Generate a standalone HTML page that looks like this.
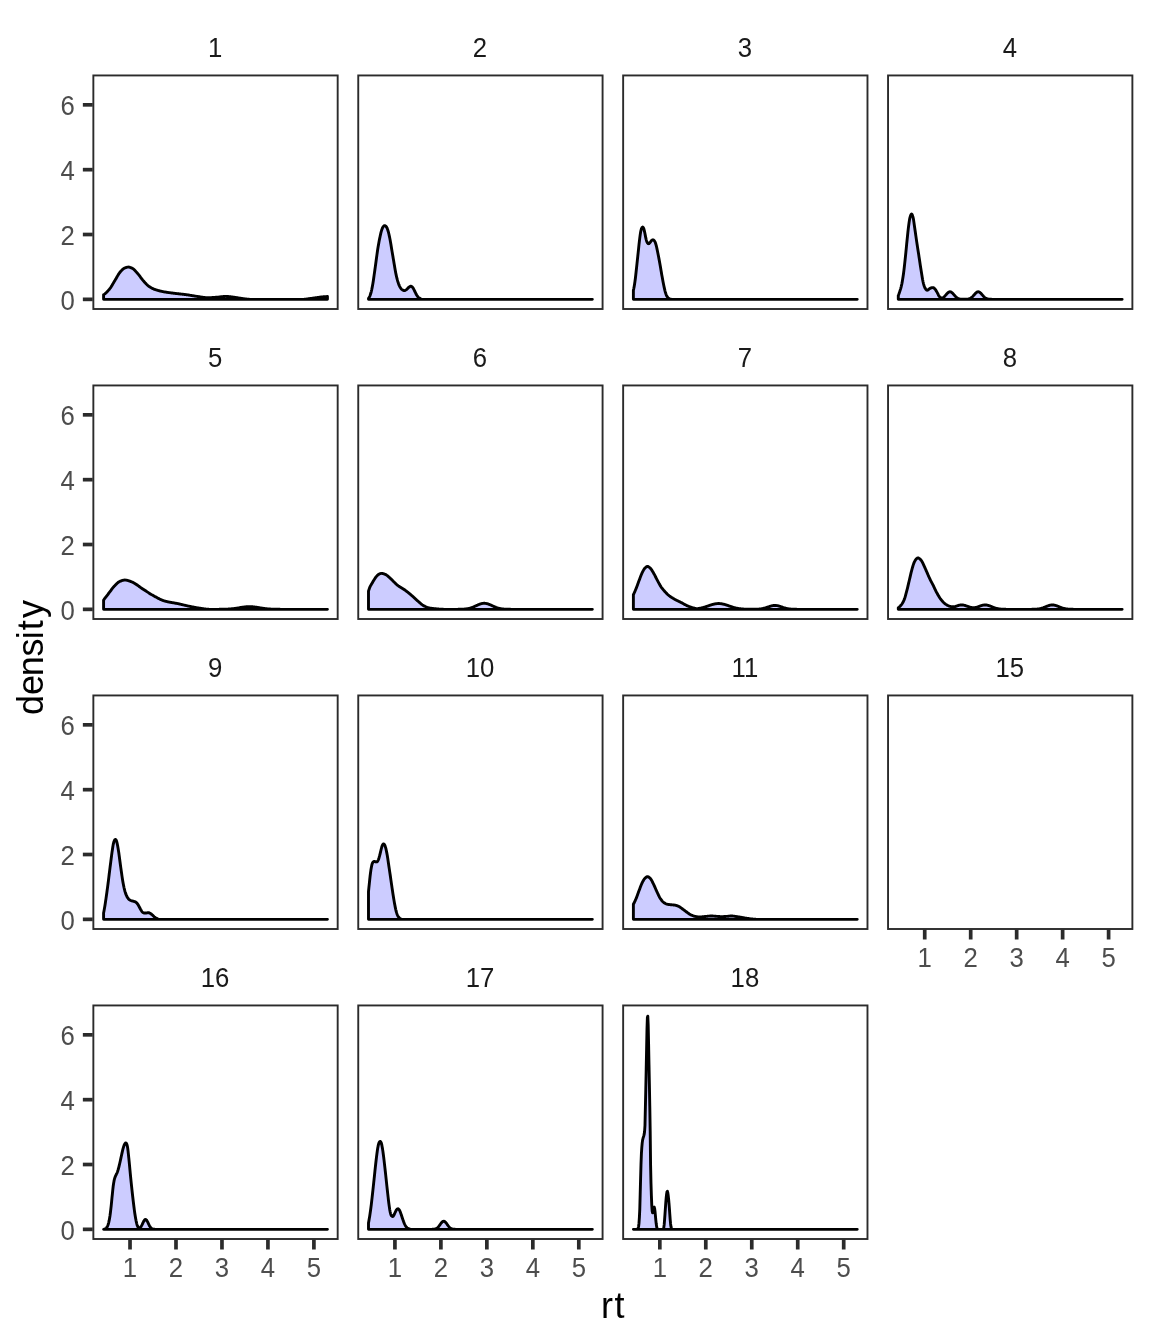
<!DOCTYPE html>
<html><head><meta charset="utf-8"><title>density by subject</title>
<style>
html,body{margin:0;padding:0;background:#fff;}
body{width:1152px;height:1344px;overflow:hidden;font-family:"Liberation Sans",sans-serif;}
svg{display:block;will-change:transform;}
</style></head><body>
<svg width="1152" height="1344" viewBox="0 0 1152 1344">
<rect width="1152" height="1344" fill="#ffffff"/>
<g font-family="'Liberation Sans', sans-serif">
<path d="M103.59 299.35L103.59 294.72L103.99 294.46L104.39 294.18L104.79 293.88L105.19 293.56L105.59 293.22L105.99 292.86L106.39 292.48L106.79 292.09L107.19 291.68L107.59 291.26L107.99 290.83L108.39 290.38L108.79 289.92L109.19 289.45L109.59 288.98L109.99 288.47L110.39 287.92L110.79 287.34L111.19 286.73L111.59 286.08L111.99 285.42L112.39 284.74L112.79 284.06L113.19 283.36L113.59 282.67L113.99 281.99L114.39 281.31L114.79 280.66L115.19 280.01L115.59 279.34L115.99 278.65L116.39 277.96L116.79 277.26L117.19 276.56L117.59 275.87L117.99 275.19L118.39 274.53L118.79 273.90L119.19 273.31L119.59 272.75L119.99 272.24L120.39 271.77L120.79 271.32L121.19 270.87L121.59 270.44L121.99 270.02L122.39 269.63L122.79 269.26L123.19 268.93L123.59 268.63L123.99 268.38L124.39 268.17L124.79 268.00L125.19 267.84L125.59 267.68L125.99 267.54L126.39 267.40L126.79 267.29L127.19 267.19L127.59 267.12L127.99 267.08L128.39 267.07L128.79 267.10L129.19 267.16L129.59 267.25L129.99 267.36L130.39 267.50L130.79 267.65L131.19 267.82L131.59 268.00L131.99 268.18L132.39 268.37L132.79 268.59L133.19 268.86L133.59 269.17L133.99 269.52L134.39 269.90L134.79 270.31L135.19 270.74L135.59 271.18L135.99 271.63L136.39 272.09L136.79 272.54L137.19 272.98L137.59 273.42L137.99 273.89L138.39 274.38L138.79 274.88L139.19 275.40L139.59 275.93L139.99 276.47L140.39 277.01L140.79 277.56L141.19 278.09L141.59 278.63L141.99 279.15L142.39 279.66L142.79 280.16L143.19 280.63L143.59 281.08L143.99 281.52L144.39 281.96L144.79 282.39L145.19 282.83L145.59 283.25L145.99 283.67L146.39 284.09L146.79 284.49L147.19 284.87L147.59 285.24L147.99 285.59L148.39 285.93L148.79 286.24L149.19 286.53L149.59 286.79L149.99 287.04L150.39 287.29L150.79 287.53L151.19 287.76L151.59 287.97L151.99 288.19L152.39 288.39L152.79 288.58L153.19 288.77L153.59 288.95L153.99 289.12L154.39 289.28L154.79 289.43L155.19 289.57L155.59 289.71L155.99 289.84L156.39 289.97L156.79 290.10L157.19 290.22L157.59 290.34L157.99 290.45L158.39 290.56L158.79 290.67L159.19 290.77L159.59 290.88L159.99 290.97L160.39 291.07L160.79 291.16L161.19 291.25L161.59 291.34L161.99 291.42L162.39 291.51L162.79 291.59L163.19 291.66L163.59 291.74L163.99 291.81L164.39 291.89L164.79 291.96L165.19 292.02L165.59 292.09L165.99 292.16L166.39 292.22L166.79 292.28L167.19 292.34L167.59 292.40L167.99 292.46L168.39 292.52L168.79 292.57L169.19 292.63L169.59 292.68L169.99 292.73L170.39 292.79L170.79 292.84L171.19 292.89L171.59 292.94L171.99 293.00L172.39 293.05L172.79 293.10L173.19 293.15L173.59 293.20L173.99 293.25L174.39 293.31L174.79 293.36L175.19 293.40L175.59 293.45L175.99 293.50L176.39 293.55L176.79 293.59L177.19 293.64L177.59 293.68L177.99 293.73L178.39 293.77L178.79 293.81L179.19 293.86L179.59 293.90L179.99 293.95L180.39 293.99L180.79 294.03L181.19 294.08L181.59 294.12L181.99 294.16L182.39 294.21L182.79 294.25L183.19 294.30L183.59 294.35L183.99 294.39L184.39 294.44L184.79 294.49L185.19 294.54L185.59 294.59L185.99 294.64L186.39 294.70L186.79 294.75L187.19 294.81L187.59 294.86L187.99 294.92L188.39 294.99L188.79 295.05L189.19 295.11L189.59 295.18L189.99 295.25L190.39 295.31L190.79 295.38L191.19 295.45L191.59 295.52L191.99 295.59L192.39 295.65L192.79 295.72L193.19 295.79L193.59 295.86L193.99 295.93L194.39 295.99L194.79 296.06L195.19 296.12L195.59 296.18L195.99 296.25L196.39 296.31L196.79 296.36L197.19 296.42L197.59 296.48L197.99 296.53L198.39 296.59L198.79 296.66L199.19 296.72L199.59 296.78L199.99 296.85L200.39 296.91L200.79 296.97L201.19 297.04L201.59 297.10L201.99 297.16L202.39 297.22L202.79 297.28L203.19 297.34L203.59 297.39L203.99 297.44L204.39 297.49L204.79 297.53L205.19 297.57L205.59 297.60L205.99 297.63L206.39 297.66L206.79 297.68L207.19 297.69L207.59 297.70L207.99 297.70L208.39 297.69L208.79 297.69L209.19 297.68L209.59 297.67L209.99 297.66L210.39 297.64L210.79 297.62L211.19 297.60L211.59 297.58L211.99 297.56L212.39 297.54L212.79 297.51L213.19 297.48L213.59 297.46L213.99 297.43L214.39 297.40L214.79 297.38L215.19 297.35L215.59 297.32L215.99 297.30L216.39 297.27L216.79 297.24L217.19 297.21L217.59 297.17L217.99 297.13L218.39 297.09L218.79 297.05L219.19 297.00L219.59 296.96L219.99 296.91L220.39 296.86L220.79 296.81L221.19 296.76L221.59 296.72L221.99 296.67L222.39 296.63L222.79 296.59L223.19 296.55L223.59 296.52L223.99 296.49L224.39 296.47L224.79 296.45L225.19 296.43L225.59 296.42L225.99 296.42L226.39 296.43L226.79 296.44L227.19 296.45L227.59 296.47L227.99 296.50L228.39 296.53L228.79 296.57L229.19 296.61L229.59 296.65L229.99 296.70L230.39 296.74L230.79 296.79L231.19 296.84L231.59 296.90L231.99 296.95L232.39 297.00L232.79 297.06L233.19 297.11L233.59 297.17L233.99 297.22L234.39 297.27L234.79 297.32L235.19 297.37L235.59 297.43L235.99 297.49L236.39 297.56L236.79 297.62L237.19 297.69L237.59 297.76L237.99 297.83L238.39 297.90L238.79 297.97L239.19 298.04L239.59 298.10L239.99 298.17L240.39 298.24L240.79 298.30L241.19 298.37L241.59 298.42L241.99 298.48L242.39 298.53L242.79 298.58L243.19 298.64L243.59 298.69L243.99 298.74L244.39 298.80L244.79 298.85L245.19 298.91L245.59 298.96L245.99 299.01L246.39 299.06L246.79 299.11L247.19 299.16L247.59 299.20L247.99 299.24L248.39 299.27L248.79 299.30L249.19 299.32L249.59 299.34L249.99 299.35L250.39 299.35L250.79 299.35L251.19 299.35L251.59 299.35L251.99 299.35L252.39 299.35L252.79 299.35L253.19 299.35L253.59 299.35L253.99 299.35L254.39 299.35L254.79 299.35L255.19 299.35L255.59 299.35L255.99 299.35L256.39 299.35L256.79 299.35L257.19 299.35L257.59 299.35L257.99 299.35L258.39 299.35L258.79 299.35L259.19 299.35L259.59 299.35L259.99 299.35L260.39 299.35L260.79 299.35L261.19 299.35L261.59 299.35L261.99 299.35L262.39 299.35L262.79 299.35L263.19 299.35L263.59 299.35L263.99 299.35L264.39 299.35L264.79 299.35L265.19 299.35L265.59 299.35L265.99 299.35L266.39 299.35L266.79 299.35L267.19 299.35L267.59 299.35L267.99 299.35L268.39 299.35L268.79 299.35L269.19 299.35L269.59 299.35L269.99 299.35L270.39 299.35L270.79 299.35L271.19 299.35L271.59 299.35L271.99 299.35L272.39 299.35L272.79 299.35L273.19 299.35L273.59 299.35L273.99 299.35L274.39 299.35L274.79 299.35L275.19 299.35L275.59 299.35L275.99 299.35L276.39 299.35L276.79 299.35L277.19 299.35L277.59 299.35L277.99 299.35L278.39 299.35L278.79 299.35L279.19 299.35L279.59 299.35L279.99 299.35L280.39 299.35L280.79 299.35L281.19 299.35L281.59 299.35L281.99 299.35L282.39 299.35L282.79 299.35L283.19 299.35L283.59 299.35L283.99 299.35L284.39 299.35L284.79 299.35L285.19 299.35L285.59 299.35L285.99 299.35L286.39 299.35L286.79 299.35L287.19 299.35L287.59 299.35L287.99 299.35L288.39 299.35L288.79 299.35L289.19 299.35L289.59 299.35L289.99 299.35L290.39 299.35L290.79 299.35L291.19 299.35L291.59 299.35L291.99 299.35L292.39 299.35L292.79 299.35L293.19 299.35L293.59 299.35L293.99 299.35L294.39 299.35L294.79 299.35L295.19 299.35L295.59 299.35L295.99 299.35L296.39 299.35L296.79 299.35L297.19 299.35L297.59 299.35L297.99 299.35L298.39 299.35L298.79 299.35L299.19 299.35L299.59 299.35L299.99 299.35L300.39 299.35L300.79 299.35L301.19 299.35L301.59 299.35L301.99 299.35L302.39 299.35L302.79 299.35L303.19 299.35L303.59 299.35L303.99 299.34L304.39 299.32L304.79 299.30L305.19 299.26L305.59 299.21L305.99 299.16L306.39 299.11L306.79 299.04L307.19 298.98L307.59 298.91L307.99 298.85L308.39 298.78L308.79 298.72L309.19 298.65L309.59 298.59L309.99 298.54L310.39 298.49L310.79 298.44L311.19 298.38L311.59 298.33L311.99 298.28L312.39 298.22L312.79 298.17L313.19 298.12L313.59 298.06L313.99 298.01L314.39 297.96L314.79 297.90L315.19 297.85L315.59 297.79L315.99 297.74L316.39 297.69L316.79 297.63L317.19 297.58L317.59 297.52L317.99 297.46L318.39 297.40L318.79 297.34L319.19 297.28L319.59 297.22L319.99 297.17L320.39 297.11L320.79 297.06L321.19 297.01L321.59 296.96L321.99 296.92L322.39 296.87L322.79 296.84L323.19 296.80L323.59 296.77L323.99 296.74L324.39 296.71L324.79 296.68L325.19 296.65L325.59 296.62L325.99 296.60L326.39 296.58L326.79 296.56L327.44 296.53L327.44 299.35Z" fill="#ccccff" stroke="#000" stroke-width="2.9" stroke-linejoin="round" stroke-linecap="round"/>
<rect x="93.35" y="75.45" width="244.33" height="233.55" fill="none" stroke="#2b2b2b" stroke-width="1.90"/>
<text transform="translate(215.11,56.90) scale(0.920,1)" font-size="28" fill="#1a1a1a" text-anchor="middle">1</text>
<line x1="82.85" y1="299.35" x2="92.70" y2="299.35" stroke="#2b2b2b" stroke-width="3.70"/>
<text transform="translate(74.80,309.75) scale(0.920,1)" font-size="28" fill="#4d4d4d" text-anchor="end">0</text>
<line x1="82.85" y1="234.51" x2="92.70" y2="234.51" stroke="#2b2b2b" stroke-width="3.70"/>
<text transform="translate(74.80,244.91) scale(0.920,1)" font-size="28" fill="#4d4d4d" text-anchor="end">2</text>
<line x1="82.85" y1="169.67" x2="92.70" y2="169.67" stroke="#2b2b2b" stroke-width="3.70"/>
<text transform="translate(74.80,180.07) scale(0.920,1)" font-size="28" fill="#4d4d4d" text-anchor="end">4</text>
<line x1="82.85" y1="104.83" x2="92.70" y2="104.83" stroke="#2b2b2b" stroke-width="3.70"/>
<text transform="translate(74.80,115.23) scale(0.920,1)" font-size="28" fill="#4d4d4d" text-anchor="end">6</text>
<path d="M368.49 299.35L368.49 298.52L368.89 297.95L369.29 297.24L369.69 296.41L370.09 295.45L370.49 294.31L370.89 293.01L371.29 291.53L371.69 289.82L372.09 287.90L372.49 285.82L372.89 283.56L373.29 280.99L373.69 278.23L374.09 275.40L374.49 272.61L374.89 269.75L375.29 266.84L375.69 263.93L376.09 261.03L376.49 258.06L376.89 255.08L377.29 252.20L377.69 249.52L378.09 247.04L378.49 244.68L378.89 242.44L379.29 240.33L379.69 238.35L380.09 236.45L380.49 234.61L380.89 232.88L381.29 231.34L381.69 230.06L382.09 228.91L382.49 227.88L382.89 227.07L383.29 226.57L383.69 226.18L384.09 225.86L384.49 225.66L384.89 225.61L385.29 225.76L385.69 226.08L386.09 226.50L386.49 226.98L386.89 227.67L387.29 228.63L387.69 229.76L388.09 231.01L388.49 232.38L388.89 234.01L389.29 235.83L389.69 237.78L390.09 239.79L390.49 241.99L390.89 244.36L391.29 246.81L391.69 249.25L392.09 251.62L392.49 253.99L392.89 256.36L393.29 258.73L393.69 261.07L394.09 263.40L394.49 265.80L394.89 268.19L395.29 270.52L395.69 272.69L396.09 274.63L396.49 276.44L396.89 278.14L397.29 279.71L397.69 281.14L398.09 282.40L398.49 283.57L398.89 284.65L399.29 285.61L399.69 286.43L400.09 287.13L400.49 287.79L400.89 288.39L401.29 288.90L401.69 289.31L402.09 289.61L402.49 289.87L402.89 290.10L403.29 290.31L403.69 290.47L404.09 290.57L404.49 290.60L404.89 290.52L405.29 290.36L405.69 290.12L406.09 289.84L406.49 289.54L406.89 289.25L407.29 288.89L407.69 288.45L408.09 287.99L408.49 287.55L408.89 287.20L409.29 286.94L409.69 286.68L410.09 286.46L410.49 286.31L410.89 286.26L411.29 286.36L411.69 286.59L412.09 286.90L412.49 287.26L412.89 287.71L413.29 288.36L413.69 289.14L414.09 289.95L414.49 290.72L414.89 291.51L415.29 292.34L415.69 293.19L416.09 294.02L416.49 294.79L416.89 295.46L417.29 296.00L417.69 296.48L418.09 296.92L418.49 297.32L418.89 297.67L419.29 297.96L419.69 298.24L420.09 298.52L420.49 298.79L420.89 299.02L421.29 299.20L421.69 299.32L422.09 299.35L422.49 299.35L422.89 299.35L423.29 299.35L423.69 299.35L424.09 299.35L424.49 299.35L424.89 299.35L425.29 299.35L425.69 299.35L426.09 299.35L426.49 299.35L426.89 299.35L427.29 299.35L427.69 299.35L428.09 299.35L428.49 299.35L428.89 299.35L429.29 299.35L429.69 299.35L430.09 299.35L430.49 299.35L430.89 299.35L431.29 299.35L431.69 299.35L432.09 299.35L432.49 299.35L432.89 299.35L433.29 299.35L433.69 299.35L434.09 299.35L434.49 299.35L434.89 299.35L435.29 299.35L435.69 299.35L436.09 299.35L436.49 299.35L436.89 299.35L437.29 299.35L437.69 299.35L438.09 299.35L438.49 299.35L438.89 299.35L439.29 299.35L439.69 299.35L440.09 299.35L440.49 299.35L440.89 299.35L441.29 299.35L441.69 299.35L442.09 299.35L442.49 299.35L442.89 299.35L443.29 299.35L443.69 299.35L444.09 299.35L444.49 299.35L444.89 299.35L445.29 299.35L445.69 299.35L446.09 299.35L446.49 299.35L446.89 299.35L447.29 299.35L447.69 299.35L448.09 299.35L448.49 299.35L448.89 299.35L449.29 299.35L449.69 299.35L450.09 299.35L450.49 299.35L450.89 299.35L451.29 299.35L451.69 299.35L452.09 299.35L452.49 299.35L452.89 299.35L453.29 299.35L453.69 299.35L454.09 299.35L454.49 299.35L454.89 299.35L455.29 299.35L455.69 299.35L456.09 299.35L456.49 299.35L456.89 299.35L457.29 299.35L457.69 299.35L458.09 299.35L458.49 299.35L458.89 299.35L459.29 299.35L459.69 299.35L460.09 299.35L460.49 299.35L460.89 299.35L461.29 299.35L461.69 299.35L462.09 299.35L462.49 299.35L462.89 299.35L463.29 299.35L463.69 299.35L464.09 299.35L464.49 299.35L464.89 299.35L465.29 299.35L465.69 299.35L466.09 299.35L466.49 299.35L466.89 299.35L467.29 299.35L467.69 299.35L468.09 299.35L468.49 299.35L468.89 299.35L469.29 299.35L469.69 299.35L470.09 299.35L470.49 299.35L470.89 299.35L471.29 299.35L471.69 299.35L472.09 299.35L472.49 299.35L472.89 299.35L473.29 299.35L473.69 299.35L474.09 299.35L474.49 299.35L474.89 299.35L475.29 299.35L475.69 299.35L476.09 299.35L476.49 299.35L476.89 299.35L477.29 299.35L477.69 299.35L478.09 299.35L478.49 299.35L478.89 299.35L479.29 299.35L479.69 299.35L480.09 299.35L480.49 299.35L480.89 299.35L481.29 299.35L481.69 299.35L482.09 299.35L482.49 299.35L482.89 299.35L483.29 299.35L483.69 299.35L484.09 299.35L484.49 299.35L484.89 299.35L485.29 299.35L485.69 299.35L486.09 299.35L486.49 299.35L486.89 299.35L487.29 299.35L487.69 299.35L488.09 299.35L488.49 299.35L488.89 299.35L489.29 299.35L489.69 299.35L490.09 299.35L490.49 299.35L490.89 299.35L491.29 299.35L491.69 299.35L492.09 299.35L492.49 299.35L492.89 299.35L493.29 299.35L493.69 299.35L494.09 299.35L494.49 299.35L494.89 299.35L495.29 299.35L495.69 299.35L496.09 299.35L496.49 299.35L496.89 299.35L497.29 299.35L497.69 299.35L498.09 299.35L498.49 299.35L498.89 299.35L499.29 299.35L499.69 299.35L500.09 299.35L500.49 299.35L500.89 299.35L501.29 299.35L501.69 299.35L502.09 299.35L502.49 299.35L502.89 299.35L503.29 299.35L503.69 299.35L504.09 299.35L504.49 299.35L504.89 299.35L505.29 299.35L505.69 299.35L506.09 299.35L506.49 299.35L506.89 299.35L507.29 299.35L507.69 299.35L508.09 299.35L508.49 299.35L508.89 299.35L509.29 299.35L509.69 299.35L510.09 299.35L510.49 299.35L510.89 299.35L511.29 299.35L511.69 299.35L512.09 299.35L512.49 299.35L512.89 299.35L513.29 299.35L513.69 299.35L514.09 299.35L514.49 299.35L514.89 299.35L515.29 299.35L515.69 299.35L516.09 299.35L516.49 299.35L516.89 299.35L517.29 299.35L517.69 299.35L518.09 299.35L518.49 299.35L518.89 299.35L519.29 299.35L519.69 299.35L520.09 299.35L520.49 299.35L520.89 299.35L521.29 299.35L521.69 299.35L522.09 299.35L522.49 299.35L522.89 299.35L523.29 299.35L523.69 299.35L524.09 299.35L524.49 299.35L524.89 299.35L525.29 299.35L525.69 299.35L526.09 299.35L526.49 299.35L526.89 299.35L527.29 299.35L527.69 299.35L528.09 299.35L528.49 299.35L528.89 299.35L529.29 299.35L529.69 299.35L530.09 299.35L530.49 299.35L530.89 299.35L531.29 299.35L531.69 299.35L532.09 299.35L532.49 299.35L532.89 299.35L533.29 299.35L533.69 299.35L534.09 299.35L534.49 299.35L534.89 299.35L535.29 299.35L535.69 299.35L536.09 299.35L536.49 299.35L536.89 299.35L537.29 299.35L537.69 299.35L538.09 299.35L538.49 299.35L538.89 299.35L539.29 299.35L539.69 299.35L540.09 299.35L540.49 299.35L540.89 299.35L541.29 299.35L541.69 299.35L542.09 299.35L542.49 299.35L542.89 299.35L543.29 299.35L543.69 299.35L544.09 299.35L544.49 299.35L544.89 299.35L545.29 299.35L545.69 299.35L546.09 299.35L546.49 299.35L546.89 299.35L547.29 299.35L547.69 299.35L548.09 299.35L548.49 299.35L548.89 299.35L549.29 299.35L549.69 299.35L550.09 299.35L550.49 299.35L550.89 299.35L551.29 299.35L551.69 299.35L552.09 299.35L552.49 299.35L552.89 299.35L553.29 299.35L553.69 299.35L554.09 299.35L554.49 299.35L554.89 299.35L555.29 299.35L555.69 299.35L556.09 299.35L556.49 299.35L556.89 299.35L557.29 299.35L557.69 299.35L558.09 299.35L558.49 299.35L558.89 299.35L559.29 299.35L559.69 299.35L560.09 299.35L560.49 299.35L560.89 299.35L561.29 299.35L561.69 299.35L562.09 299.35L562.49 299.35L562.89 299.35L563.29 299.35L563.69 299.35L564.09 299.35L564.49 299.35L564.89 299.35L565.29 299.35L565.69 299.35L566.09 299.35L566.49 299.35L566.89 299.35L567.29 299.35L567.69 299.35L568.09 299.35L568.49 299.35L568.89 299.35L569.29 299.35L569.69 299.35L570.09 299.35L570.49 299.35L570.89 299.35L571.29 299.35L571.69 299.35L572.09 299.35L572.49 299.35L572.89 299.35L573.29 299.35L573.69 299.35L574.09 299.35L574.49 299.35L574.89 299.35L575.29 299.35L575.69 299.35L576.09 299.35L576.49 299.35L576.89 299.35L577.29 299.35L577.69 299.35L578.09 299.35L578.49 299.35L578.89 299.35L579.29 299.35L579.69 299.35L580.09 299.35L580.49 299.35L580.89 299.35L581.29 299.35L581.69 299.35L582.09 299.35L582.49 299.35L582.89 299.35L583.29 299.35L583.69 299.35L584.09 299.35L584.49 299.35L584.89 299.35L585.29 299.35L585.69 299.35L586.09 299.35L586.49 299.35L586.89 299.35L587.29 299.35L587.69 299.35L588.09 299.35L588.49 299.35L588.89 299.35L589.29 299.35L589.69 299.35L590.09 299.35L590.49 299.35L590.89 299.35L591.29 299.35L591.69 299.35L592.34 299.35L592.34 299.35Z" fill="#ccccff" stroke="#000" stroke-width="2.9" stroke-linejoin="round" stroke-linecap="round"/>
<rect x="358.25" y="75.45" width="244.33" height="233.55" fill="none" stroke="#2b2b2b" stroke-width="1.90"/>
<text transform="translate(480.02,56.90) scale(0.920,1)" font-size="28" fill="#1a1a1a" text-anchor="middle">2</text>
<path d="M633.39 299.35L633.39 290.38L633.79 288.55L634.19 286.40L634.59 283.98L634.99 281.32L635.39 278.23L635.79 274.72L636.19 271.02L636.59 267.35L636.99 263.69L637.39 259.94L637.79 256.16L638.19 252.41L638.59 248.59L638.99 244.72L639.39 241.10L639.79 237.92L640.19 234.91L640.59 232.28L640.99 230.35L641.39 228.91L641.79 227.96L642.19 227.34L642.59 227.02L642.99 227.24L643.39 227.88L643.79 228.73L644.19 230.14L644.59 231.85L644.99 233.70L645.39 235.88L645.79 237.95L646.19 239.53L646.59 240.92L646.99 242.05L647.39 242.75L647.79 243.22L648.19 243.58L648.59 243.72L648.99 243.59L649.39 243.24L649.79 242.79L650.19 242.35L650.59 241.82L650.99 241.22L651.39 240.70L651.79 240.37L652.19 240.11L652.59 239.91L652.99 239.82L653.39 239.90L653.79 240.18L654.19 240.58L654.59 241.06L654.99 241.81L655.39 242.83L655.79 244.00L656.19 245.33L656.59 246.98L656.99 248.84L657.39 250.79L657.79 252.73L658.19 254.70L658.59 256.75L658.99 258.87L659.39 261.03L659.79 263.23L660.19 265.48L660.59 267.82L660.99 270.21L661.39 272.58L661.79 274.88L662.19 277.10L662.59 279.29L662.99 281.44L663.39 283.49L663.79 285.43L664.19 287.33L664.59 289.16L664.99 290.83L665.39 292.25L665.79 293.53L666.19 294.71L666.59 295.70L666.99 296.41L667.39 296.97L667.79 297.45L668.19 297.86L668.59 298.20L668.99 298.45L669.39 298.65L669.79 298.83L670.19 298.99L670.59 299.14L670.99 299.25L671.39 299.32L671.79 299.35L672.19 299.35L672.59 299.35L672.99 299.35L673.39 299.35L673.79 299.35L674.19 299.35L674.59 299.35L674.99 299.35L675.39 299.35L675.79 299.35L676.19 299.35L676.59 299.35L676.99 299.35L677.39 299.35L677.79 299.35L678.19 299.35L678.59 299.35L678.99 299.35L679.39 299.35L679.79 299.35L680.19 299.35L680.59 299.35L680.99 299.35L681.39 299.35L681.79 299.35L682.19 299.35L682.59 299.35L682.99 299.35L683.39 299.35L683.79 299.35L684.19 299.35L684.59 299.35L684.99 299.35L685.39 299.35L685.79 299.35L686.19 299.35L686.59 299.35L686.99 299.35L687.39 299.35L687.79 299.35L688.19 299.35L688.59 299.35L688.99 299.35L689.39 299.35L689.79 299.35L690.19 299.35L690.59 299.35L690.99 299.35L691.39 299.35L691.79 299.35L692.19 299.35L692.59 299.35L692.99 299.35L693.39 299.35L693.79 299.35L694.19 299.35L694.59 299.35L694.99 299.35L695.39 299.35L695.79 299.35L696.19 299.35L696.59 299.35L696.99 299.35L697.39 299.35L697.79 299.35L698.19 299.35L698.59 299.35L698.99 299.35L699.39 299.35L699.79 299.35L700.19 299.35L700.59 299.35L700.99 299.35L701.39 299.35L701.79 299.35L702.19 299.35L702.59 299.35L702.99 299.35L703.39 299.35L703.79 299.35L704.19 299.35L704.59 299.35L704.99 299.35L705.39 299.35L705.79 299.35L706.19 299.35L706.59 299.35L706.99 299.35L707.39 299.35L707.79 299.35L708.19 299.35L708.59 299.35L708.99 299.35L709.39 299.35L709.79 299.35L710.19 299.35L710.59 299.35L710.99 299.35L711.39 299.35L711.79 299.35L712.19 299.35L712.59 299.35L712.99 299.35L713.39 299.35L713.79 299.35L714.19 299.35L714.59 299.35L714.99 299.35L715.39 299.35L715.79 299.35L716.19 299.35L716.59 299.35L716.99 299.35L717.39 299.35L717.79 299.35L718.19 299.35L718.59 299.35L718.99 299.35L719.39 299.35L719.79 299.35L720.19 299.35L720.59 299.35L720.99 299.35L721.39 299.35L721.79 299.35L722.19 299.35L722.59 299.35L722.99 299.35L723.39 299.35L723.79 299.35L724.19 299.35L724.59 299.35L724.99 299.35L725.39 299.35L725.79 299.35L726.19 299.35L726.59 299.35L726.99 299.35L727.39 299.35L727.79 299.35L728.19 299.35L728.59 299.35L728.99 299.35L729.39 299.35L729.79 299.35L730.19 299.35L730.59 299.35L730.99 299.35L731.39 299.35L731.79 299.35L732.19 299.35L732.59 299.35L732.99 299.35L733.39 299.35L733.79 299.35L734.19 299.35L734.59 299.35L734.99 299.35L735.39 299.35L735.79 299.35L736.19 299.35L736.59 299.35L736.99 299.35L737.39 299.35L737.79 299.35L738.19 299.35L738.59 299.35L738.99 299.35L739.39 299.35L739.79 299.35L740.19 299.35L740.59 299.35L740.99 299.35L741.39 299.35L741.79 299.35L742.19 299.35L742.59 299.35L742.99 299.35L743.39 299.35L743.79 299.35L744.19 299.35L744.59 299.35L744.99 299.35L745.39 299.35L745.79 299.35L746.19 299.35L746.59 299.35L746.99 299.35L747.39 299.35L747.79 299.35L748.19 299.35L748.59 299.35L748.99 299.35L749.39 299.35L749.79 299.35L750.19 299.35L750.59 299.35L750.99 299.35L751.39 299.35L751.79 299.35L752.19 299.35L752.59 299.35L752.99 299.35L753.39 299.35L753.79 299.35L754.19 299.35L754.59 299.35L754.99 299.35L755.39 299.35L755.79 299.35L756.19 299.35L756.59 299.35L756.99 299.35L757.39 299.35L757.79 299.35L758.19 299.35L758.59 299.35L758.99 299.35L759.39 299.35L759.79 299.35L760.19 299.35L760.59 299.35L760.99 299.35L761.39 299.35L761.79 299.35L762.19 299.35L762.59 299.35L762.99 299.35L763.39 299.35L763.79 299.35L764.19 299.35L764.59 299.35L764.99 299.35L765.39 299.35L765.79 299.35L766.19 299.35L766.59 299.35L766.99 299.35L767.39 299.35L767.79 299.35L768.19 299.35L768.59 299.35L768.99 299.35L769.39 299.35L769.79 299.35L770.19 299.35L770.59 299.35L770.99 299.35L771.39 299.35L771.79 299.35L772.19 299.35L772.59 299.35L772.99 299.35L773.39 299.35L773.79 299.35L774.19 299.35L774.59 299.35L774.99 299.35L775.39 299.35L775.79 299.35L776.19 299.35L776.59 299.35L776.99 299.35L777.39 299.35L777.79 299.35L778.19 299.35L778.59 299.35L778.99 299.35L779.39 299.35L779.79 299.35L780.19 299.35L780.59 299.35L780.99 299.35L781.39 299.35L781.79 299.35L782.19 299.35L782.59 299.35L782.99 299.35L783.39 299.35L783.79 299.35L784.19 299.35L784.59 299.35L784.99 299.35L785.39 299.35L785.79 299.35L786.19 299.35L786.59 299.35L786.99 299.35L787.39 299.35L787.79 299.35L788.19 299.35L788.59 299.35L788.99 299.35L789.39 299.35L789.79 299.35L790.19 299.35L790.59 299.35L790.99 299.35L791.39 299.35L791.79 299.35L792.19 299.35L792.59 299.35L792.99 299.35L793.39 299.35L793.79 299.35L794.19 299.35L794.59 299.35L794.99 299.35L795.39 299.35L795.79 299.35L796.19 299.35L796.59 299.35L796.99 299.35L797.39 299.35L797.79 299.35L798.19 299.35L798.59 299.35L798.99 299.35L799.39 299.35L799.79 299.35L800.19 299.35L800.59 299.35L800.99 299.35L801.39 299.35L801.79 299.35L802.19 299.35L802.59 299.35L802.99 299.35L803.39 299.35L803.79 299.35L804.19 299.35L804.59 299.35L804.99 299.35L805.39 299.35L805.79 299.35L806.19 299.35L806.59 299.35L806.99 299.35L807.39 299.35L807.79 299.35L808.19 299.35L808.59 299.35L808.99 299.35L809.39 299.35L809.79 299.35L810.19 299.35L810.59 299.35L810.99 299.35L811.39 299.35L811.79 299.35L812.19 299.35L812.59 299.35L812.99 299.35L813.39 299.35L813.79 299.35L814.19 299.35L814.59 299.35L814.99 299.35L815.39 299.35L815.79 299.35L816.19 299.35L816.59 299.35L816.99 299.35L817.39 299.35L817.79 299.35L818.19 299.35L818.59 299.35L818.99 299.35L819.39 299.35L819.79 299.35L820.19 299.35L820.59 299.35L820.99 299.35L821.39 299.35L821.79 299.35L822.19 299.35L822.59 299.35L822.99 299.35L823.39 299.35L823.79 299.35L824.19 299.35L824.59 299.35L824.99 299.35L825.39 299.35L825.79 299.35L826.19 299.35L826.59 299.35L826.99 299.35L827.39 299.35L827.79 299.35L828.19 299.35L828.59 299.35L828.99 299.35L829.39 299.35L829.79 299.35L830.19 299.35L830.59 299.35L830.99 299.35L831.39 299.35L831.79 299.35L832.19 299.35L832.59 299.35L832.99 299.35L833.39 299.35L833.79 299.35L834.19 299.35L834.59 299.35L834.99 299.35L835.39 299.35L835.79 299.35L836.19 299.35L836.59 299.35L836.99 299.35L837.39 299.35L837.79 299.35L838.19 299.35L838.59 299.35L838.99 299.35L839.39 299.35L839.79 299.35L840.19 299.35L840.59 299.35L840.99 299.35L841.39 299.35L841.79 299.35L842.19 299.35L842.59 299.35L842.99 299.35L843.39 299.35L843.79 299.35L844.19 299.35L844.59 299.35L844.99 299.35L845.39 299.35L845.79 299.35L846.19 299.35L846.59 299.35L846.99 299.35L847.39 299.35L847.79 299.35L848.19 299.35L848.59 299.35L848.99 299.35L849.39 299.35L849.79 299.35L850.19 299.35L850.59 299.35L850.99 299.35L851.39 299.35L851.79 299.35L852.19 299.35L852.59 299.35L852.99 299.35L853.39 299.35L853.79 299.35L854.19 299.35L854.59 299.35L854.99 299.35L855.39 299.35L855.79 299.35L856.19 299.35L856.59 299.35L857.24 299.35L857.24 299.35Z" fill="#ccccff" stroke="#000" stroke-width="2.9" stroke-linejoin="round" stroke-linecap="round"/>
<rect x="623.15" y="75.45" width="244.33" height="233.55" fill="none" stroke="#2b2b2b" stroke-width="1.90"/>
<text transform="translate(744.92,56.90) scale(0.920,1)" font-size="28" fill="#1a1a1a" text-anchor="middle">3</text>
<path d="M898.29 299.35L898.29 295.57L898.69 294.59L899.09 293.53L899.49 292.39L899.89 291.17L900.29 289.90L900.69 288.55L901.09 287.08L901.49 285.45L901.89 283.61L902.29 281.48L902.69 279.09L903.09 276.48L903.49 273.71L903.89 270.63L904.29 267.23L904.69 263.61L905.09 259.89L905.49 256.12L905.89 252.13L906.29 248.03L906.69 243.95L907.09 240.02L907.49 236.10L907.89 232.22L908.29 228.62L908.69 225.48L909.09 222.53L909.49 219.87L909.89 217.84L910.29 216.48L910.69 215.29L911.09 214.40L911.49 213.99L911.89 214.22L912.29 214.99L912.69 216.12L913.09 217.42L913.49 219.36L913.89 222.09L914.29 225.00L914.69 227.70L915.09 230.47L915.49 233.30L915.89 236.12L916.29 238.91L916.69 241.62L917.09 244.26L917.49 246.86L917.89 249.44L918.29 252.01L918.69 254.59L919.09 257.19L919.49 259.84L919.89 262.51L920.29 265.16L920.69 267.76L921.09 270.28L921.49 272.70L921.89 275.19L922.29 277.66L922.69 279.97L923.09 281.99L923.49 283.62L923.89 284.99L924.29 286.23L924.69 287.30L925.09 288.15L925.49 288.75L925.89 289.29L926.29 289.75L926.69 290.08L927.09 290.21L927.49 290.15L927.89 289.96L928.29 289.69L928.69 289.37L929.09 289.06L929.49 288.80L929.89 288.55L930.29 288.30L930.69 288.07L931.09 287.89L931.49 287.79L931.89 287.72L932.29 287.65L932.69 287.61L933.09 287.60L933.49 287.70L933.89 287.94L934.29 288.30L934.69 288.71L935.09 289.13L935.49 289.62L935.89 290.24L936.29 290.94L936.69 291.68L937.09 292.41L937.49 293.13L937.89 293.92L938.29 294.73L938.69 295.49L939.09 296.16L939.49 296.66L939.89 297.08L940.29 297.43L940.69 297.70L941.09 297.87L941.49 297.95L941.89 297.99L942.29 297.97L942.69 297.86L943.09 297.65L943.49 297.34L943.89 297.00L944.29 296.62L944.69 296.22L945.09 295.80L945.49 295.35L945.89 294.90L946.29 294.44L946.69 293.99L947.09 293.56L947.49 293.15L947.89 292.78L948.29 292.46L948.69 292.19L949.09 291.99L949.49 291.86L949.89 291.80L950.29 291.82L950.69 291.91L951.09 292.08L951.49 292.31L951.89 292.60L952.29 292.94L952.69 293.33L953.09 293.75L953.49 294.19L953.89 294.64L954.29 295.10L954.69 295.55L955.09 295.99L955.49 296.41L955.89 296.80L956.29 297.16L956.69 297.49L957.09 297.78L957.49 298.04L957.89 298.27L958.29 298.47L958.69 298.64L959.09 298.78L959.49 298.90L959.89 298.99L960.29 299.07L960.69 299.14L961.09 299.19L961.49 299.23L961.89 299.26L962.29 299.28L962.69 299.30L963.09 299.31L963.49 299.32L963.89 299.32L964.29 299.32L964.69 299.32L965.09 299.31L965.49 299.30L965.89 299.28L966.29 299.26L966.69 299.23L967.09 299.19L967.49 299.14L967.89 299.08L968.29 299.00L968.69 298.90L969.09 298.79L969.49 298.64L969.89 298.48L970.29 298.28L970.69 298.05L971.09 297.79L971.49 297.50L971.89 297.17L972.29 296.82L972.69 296.43L973.09 296.01L973.49 295.58L973.89 295.12L974.29 294.67L974.69 294.21L975.09 293.77L975.49 293.35L975.89 292.96L976.29 292.61L976.69 292.32L977.09 292.09L977.49 291.92L977.89 291.82L978.29 291.80L978.69 291.86L979.09 291.98L979.49 292.18L979.89 292.44L980.29 292.76L980.69 293.13L981.09 293.53L981.49 293.97L981.89 294.42L982.29 294.87L982.69 295.33L983.09 295.77L983.49 296.20L983.89 296.60L984.29 296.98L984.69 297.33L985.09 297.64L985.49 297.92L985.89 298.16L986.29 298.37L986.69 298.56L987.09 298.71L987.49 298.84L987.89 298.95L988.29 299.04L988.69 299.11L989.09 299.16L989.49 299.21L989.89 299.24L990.29 299.27L990.69 299.29L991.09 299.31L991.49 299.32L991.89 299.33L992.29 299.33L992.69 299.34L993.09 299.34L993.49 299.34L993.89 299.35L994.29 299.35L994.69 299.35L995.09 299.35L995.49 299.35L995.89 299.35L996.29 299.35L996.69 299.35L997.09 299.35L997.49 299.35L997.89 299.35L998.29 299.35L998.69 299.35L999.09 299.35L999.49 299.35L999.89 299.35L1000.29 299.35L1000.69 299.35L1001.09 299.35L1001.49 299.35L1001.89 299.35L1002.29 299.35L1002.69 299.35L1003.09 299.35L1003.49 299.35L1003.89 299.35L1004.29 299.35L1004.69 299.35L1005.09 299.35L1005.49 299.35L1005.89 299.35L1006.29 299.35L1006.69 299.35L1007.09 299.35L1007.49 299.35L1007.89 299.35L1008.29 299.35L1008.69 299.35L1009.09 299.35L1009.49 299.35L1009.89 299.35L1010.29 299.35L1010.69 299.35L1011.09 299.35L1011.49 299.35L1011.89 299.35L1012.29 299.35L1012.69 299.35L1013.09 299.35L1013.49 299.35L1013.89 299.35L1014.29 299.35L1014.69 299.35L1015.09 299.35L1015.49 299.35L1015.89 299.35L1016.29 299.35L1016.69 299.35L1017.09 299.35L1017.49 299.35L1017.89 299.35L1018.29 299.35L1018.69 299.35L1019.09 299.35L1019.49 299.35L1019.89 299.35L1020.29 299.35L1020.69 299.35L1021.09 299.35L1021.49 299.35L1021.89 299.35L1022.29 299.35L1022.69 299.35L1023.09 299.35L1023.49 299.35L1023.89 299.35L1024.29 299.35L1024.69 299.35L1025.09 299.35L1025.49 299.35L1025.89 299.35L1026.29 299.35L1026.69 299.35L1027.09 299.35L1027.49 299.35L1027.89 299.35L1028.29 299.35L1028.69 299.35L1029.09 299.35L1029.49 299.35L1029.89 299.35L1030.29 299.35L1030.69 299.35L1031.09 299.35L1031.49 299.35L1031.89 299.35L1032.29 299.35L1032.69 299.35L1033.09 299.35L1033.49 299.35L1033.89 299.35L1034.29 299.35L1034.69 299.35L1035.09 299.35L1035.49 299.35L1035.89 299.35L1036.29 299.35L1036.69 299.35L1037.09 299.35L1037.49 299.35L1037.89 299.35L1038.29 299.35L1038.69 299.35L1039.09 299.35L1039.49 299.35L1039.89 299.35L1040.29 299.35L1040.69 299.35L1041.09 299.35L1041.49 299.35L1041.89 299.35L1042.29 299.35L1042.69 299.35L1043.09 299.35L1043.49 299.35L1043.89 299.35L1044.29 299.35L1044.69 299.35L1045.09 299.35L1045.49 299.35L1045.89 299.35L1046.29 299.35L1046.69 299.35L1047.09 299.35L1047.49 299.35L1047.89 299.35L1048.29 299.35L1048.69 299.35L1049.09 299.35L1049.49 299.35L1049.89 299.35L1050.29 299.35L1050.69 299.35L1051.09 299.35L1051.49 299.35L1051.89 299.35L1052.29 299.35L1052.69 299.35L1053.09 299.35L1053.49 299.35L1053.89 299.35L1054.29 299.35L1054.69 299.35L1055.09 299.35L1055.49 299.35L1055.89 299.35L1056.29 299.35L1056.69 299.35L1057.09 299.35L1057.49 299.35L1057.89 299.35L1058.29 299.35L1058.69 299.35L1059.09 299.35L1059.49 299.35L1059.89 299.35L1060.29 299.35L1060.69 299.35L1061.09 299.35L1061.49 299.35L1061.89 299.35L1062.29 299.35L1062.69 299.35L1063.09 299.35L1063.49 299.35L1063.89 299.35L1064.29 299.35L1064.69 299.35L1065.09 299.35L1065.49 299.35L1065.89 299.35L1066.29 299.35L1066.69 299.35L1067.09 299.35L1067.49 299.35L1067.89 299.35L1068.29 299.35L1068.69 299.35L1069.09 299.35L1069.49 299.35L1069.89 299.35L1070.29 299.35L1070.69 299.35L1071.09 299.35L1071.49 299.35L1071.89 299.35L1072.29 299.35L1072.69 299.35L1073.09 299.35L1073.49 299.35L1073.89 299.35L1074.29 299.35L1074.69 299.35L1075.09 299.35L1075.49 299.35L1075.89 299.35L1076.29 299.35L1076.69 299.35L1077.09 299.35L1077.49 299.35L1077.89 299.35L1078.29 299.35L1078.69 299.35L1079.09 299.35L1079.49 299.35L1079.89 299.35L1080.29 299.35L1080.69 299.35L1081.09 299.35L1081.49 299.35L1081.89 299.35L1082.29 299.35L1082.69 299.35L1083.09 299.35L1083.49 299.35L1083.89 299.35L1084.29 299.35L1084.69 299.35L1085.09 299.35L1085.49 299.35L1085.89 299.35L1086.29 299.35L1086.69 299.35L1087.09 299.35L1087.49 299.35L1087.89 299.35L1088.29 299.35L1088.69 299.35L1089.09 299.35L1089.49 299.35L1089.89 299.35L1090.29 299.35L1090.69 299.35L1091.09 299.35L1091.49 299.35L1091.89 299.35L1092.29 299.35L1092.69 299.35L1093.09 299.35L1093.49 299.35L1093.89 299.35L1094.29 299.35L1094.69 299.35L1095.09 299.35L1095.49 299.35L1095.89 299.35L1096.29 299.35L1096.69 299.35L1097.09 299.35L1097.49 299.35L1097.89 299.35L1098.29 299.35L1098.69 299.35L1099.09 299.35L1099.49 299.35L1099.89 299.35L1100.29 299.35L1100.69 299.35L1101.09 299.35L1101.49 299.35L1101.89 299.35L1102.29 299.35L1102.69 299.35L1103.09 299.35L1103.49 299.35L1103.89 299.35L1104.29 299.35L1104.69 299.35L1105.09 299.35L1105.49 299.35L1105.89 299.35L1106.29 299.35L1106.69 299.35L1107.09 299.35L1107.49 299.35L1107.89 299.35L1108.29 299.35L1108.69 299.35L1109.09 299.35L1109.49 299.35L1109.89 299.35L1110.29 299.35L1110.69 299.35L1111.09 299.35L1111.49 299.35L1111.89 299.35L1112.29 299.35L1112.69 299.35L1113.09 299.35L1113.49 299.35L1113.89 299.35L1114.29 299.35L1114.69 299.35L1115.09 299.35L1115.49 299.35L1115.89 299.35L1116.29 299.35L1116.69 299.35L1117.09 299.35L1117.49 299.35L1117.89 299.35L1118.29 299.35L1118.69 299.35L1119.09 299.35L1119.49 299.35L1119.89 299.35L1120.29 299.35L1120.69 299.35L1121.09 299.35L1121.49 299.35L1122.14 299.35L1122.14 299.35Z" fill="#ccccff" stroke="#000" stroke-width="2.9" stroke-linejoin="round" stroke-linecap="round"/>
<rect x="888.05" y="75.45" width="244.33" height="233.55" fill="none" stroke="#2b2b2b" stroke-width="1.90"/>
<text transform="translate(1009.82,56.90) scale(0.920,1)" font-size="28" fill="#1a1a1a" text-anchor="middle">4</text>
<path d="M103.59 609.35L103.59 600.04L103.99 599.51L104.39 598.98L104.79 598.46L105.19 597.93L105.59 597.40L105.99 596.88L106.39 596.36L106.79 595.83L107.19 595.31L107.59 594.79L107.99 594.27L108.39 593.75L108.79 593.23L109.19 592.71L109.59 592.18L109.99 591.64L110.39 591.10L110.79 590.56L111.19 590.02L111.59 589.48L111.99 588.95L112.39 588.43L112.79 587.92L113.19 587.43L113.59 586.96L113.99 586.51L114.39 586.09L114.79 585.67L115.19 585.24L115.59 584.82L115.99 584.40L116.39 583.99L116.79 583.60L117.19 583.22L117.59 582.86L117.99 582.53L118.39 582.23L118.79 581.96L119.19 581.73L119.59 581.54L119.99 581.37L120.39 581.20L120.79 581.04L121.19 580.88L121.59 580.73L121.99 580.59L122.39 580.47L122.79 580.35L123.19 580.26L123.59 580.17L123.99 580.11L124.39 580.07L124.79 580.05L125.19 580.06L125.59 580.08L125.99 580.12L126.39 580.18L126.79 580.25L127.19 580.34L127.59 580.44L127.99 580.55L128.39 580.67L128.79 580.80L129.19 580.94L129.59 581.08L129.99 581.23L130.39 581.38L130.79 581.54L131.19 581.69L131.59 581.84L131.99 581.99L132.39 582.15L132.79 582.33L133.19 582.52L133.59 582.72L133.99 582.94L134.39 583.16L134.79 583.40L135.19 583.65L135.59 583.91L135.99 584.17L136.39 584.44L136.79 584.72L137.19 585.01L137.59 585.29L137.99 585.58L138.39 585.88L138.79 586.17L139.19 586.47L139.59 586.76L139.99 587.06L140.39 587.35L140.79 587.64L141.19 587.92L141.59 588.20L141.99 588.47L142.39 588.74L142.79 589.00L143.19 589.25L143.59 589.51L143.99 589.77L144.39 590.03L144.79 590.29L145.19 590.55L145.59 590.82L145.99 591.08L146.39 591.34L146.79 591.60L147.19 591.86L147.59 592.12L147.99 592.38L148.39 592.64L148.79 592.90L149.19 593.15L149.59 593.41L149.99 593.66L150.39 593.91L150.79 594.15L151.19 594.39L151.59 594.63L151.99 594.87L152.39 595.10L152.79 595.33L153.19 595.56L153.59 595.78L153.99 595.99L154.39 596.21L154.79 596.43L155.19 596.66L155.59 596.88L155.99 597.10L156.39 597.32L156.79 597.54L157.19 597.76L157.59 597.97L157.99 598.19L158.39 598.40L158.79 598.60L159.19 598.81L159.59 599.01L159.99 599.20L160.39 599.39L160.79 599.58L161.19 599.76L161.59 599.93L161.99 600.10L162.39 600.26L162.79 600.41L163.19 600.55L163.59 600.69L163.99 600.82L164.39 600.93L164.79 601.05L165.19 601.16L165.59 601.26L165.99 601.36L166.39 601.46L166.79 601.56L167.19 601.65L167.59 601.74L167.99 601.83L168.39 601.91L168.79 601.99L169.19 602.07L169.59 602.15L169.99 602.23L170.39 602.30L170.79 602.38L171.19 602.45L171.59 602.52L171.99 602.59L172.39 602.66L172.79 602.73L173.19 602.80L173.59 602.87L173.99 602.94L174.39 603.01L174.79 603.08L175.19 603.15L175.59 603.22L175.99 603.29L176.39 603.37L176.79 603.44L177.19 603.52L177.59 603.60L177.99 603.68L178.39 603.76L178.79 603.84L179.19 603.93L179.59 604.02L179.99 604.11L180.39 604.20L180.79 604.29L181.19 604.38L181.59 604.47L181.99 604.57L182.39 604.66L182.79 604.76L183.19 604.85L183.59 604.95L183.99 605.04L184.39 605.14L184.79 605.23L185.19 605.33L185.59 605.42L185.99 605.52L186.39 605.61L186.79 605.70L187.19 605.79L187.59 605.88L187.99 605.97L188.39 606.05L188.79 606.14L189.19 606.22L189.59 606.30L189.99 606.39L190.39 606.47L190.79 606.55L191.19 606.64L191.59 606.72L191.99 606.80L192.39 606.88L192.79 606.96L193.19 607.04L193.59 607.12L193.99 607.20L194.39 607.28L194.79 607.35L195.19 607.43L195.59 607.50L195.99 607.58L196.39 607.65L196.79 607.72L197.19 607.79L197.59 607.85L197.99 607.92L198.39 607.98L198.79 608.04L199.19 608.10L199.59 608.16L199.99 608.22L200.39 608.28L200.79 608.34L201.19 608.40L201.59 608.47L201.99 608.53L202.39 608.59L202.79 608.65L203.19 608.71L203.59 608.77L203.99 608.83L204.39 608.89L204.79 608.95L205.19 609.00L205.59 609.05L205.99 609.10L206.39 609.14L206.79 609.18L207.19 609.22L207.59 609.25L207.99 609.28L208.39 609.30L208.79 609.32L209.19 609.34L209.59 609.35L209.99 609.35L210.39 609.35L210.79 609.35L211.19 609.35L211.59 609.35L211.99 609.35L212.39 609.35L212.79 609.35L213.19 609.35L213.59 609.35L213.99 609.34L214.39 609.34L214.79 609.34L215.19 609.34L215.59 609.34L215.99 609.34L216.39 609.34L216.79 609.34L217.19 609.33L217.59 609.33L217.99 609.33L218.39 609.33L218.79 609.33L219.19 609.32L219.59 609.32L219.99 609.31L220.39 609.31L220.79 609.30L221.19 609.30L221.59 609.29L221.99 609.29L222.39 609.28L222.79 609.27L223.19 609.26L223.59 609.25L223.99 609.24L224.39 609.23L224.79 609.22L225.19 609.21L225.59 609.19L225.99 609.18L226.39 609.16L226.79 609.14L227.19 609.12L227.59 609.10L227.99 609.08L228.39 609.05L228.79 609.03L229.19 609.00L229.59 608.97L229.99 608.94L230.39 608.91L230.79 608.87L231.19 608.84L231.59 608.80L231.99 608.76L232.39 608.71L232.79 608.67L233.19 608.62L233.59 608.58L233.99 608.53L234.39 608.47L234.79 608.42L235.19 608.37L235.59 608.31L235.99 608.25L236.39 608.19L236.79 608.13L237.19 608.07L237.59 608.01L237.99 607.94L238.39 607.88L238.79 607.81L239.19 607.75L239.59 607.68L239.99 607.62L240.39 607.55L240.79 607.49L241.19 607.42L241.59 607.36L241.99 607.30L242.39 607.24L242.79 607.18L243.19 607.12L243.59 607.07L243.99 607.02L244.39 606.97L244.79 606.92L245.19 606.88L245.59 606.84L245.99 606.80L246.39 606.77L246.79 606.74L247.19 606.72L247.59 606.69L247.99 606.68L248.39 606.66L248.79 606.66L249.19 606.65L249.59 606.65L249.99 606.65L250.39 606.66L250.79 606.68L251.19 606.69L251.59 606.71L251.99 606.74L252.39 606.77L252.79 606.80L253.19 606.84L253.59 606.88L253.99 606.92L254.39 606.97L254.79 607.02L255.19 607.07L255.59 607.12L255.99 607.18L256.39 607.24L256.79 607.30L257.19 607.36L257.59 607.42L257.99 607.48L258.39 607.55L258.79 607.61L259.19 607.68L259.59 607.74L259.99 607.81L260.39 607.87L260.79 607.94L261.19 608.00L261.59 608.07L261.99 608.13L262.39 608.19L262.79 608.25L263.19 608.31L263.59 608.36L263.99 608.42L264.39 608.47L264.79 608.52L265.19 608.57L265.59 608.62L265.99 608.67L266.39 608.71L266.79 608.75L267.19 608.80L267.59 608.83L267.99 608.87L268.39 608.91L268.79 608.94L269.19 608.97L269.59 609.00L269.99 609.03L270.39 609.05L270.79 609.08L271.19 609.10L271.59 609.12L271.99 609.14L272.39 609.16L272.79 609.17L273.19 609.19L273.59 609.21L273.99 609.22L274.39 609.23L274.79 609.24L275.19 609.25L275.59 609.26L275.99 609.27L276.39 609.28L276.79 609.29L277.19 609.29L277.59 609.30L277.99 609.30L278.39 609.31L278.79 609.31L279.19 609.32L279.59 609.32L279.99 609.32L280.39 609.33L280.79 609.33L281.19 609.33L281.59 609.33L281.99 609.34L282.39 609.34L282.79 609.34L283.19 609.34L283.59 609.34L283.99 609.34L284.39 609.34L284.79 609.34L285.19 609.35L285.59 609.35L285.99 609.35L286.39 609.35L286.79 609.35L287.19 609.35L287.59 609.35L287.99 609.35L288.39 609.35L288.79 609.35L289.19 609.35L289.59 609.35L289.99 609.35L290.39 609.35L290.79 609.35L291.19 609.35L291.59 609.35L291.99 609.35L292.39 609.35L292.79 609.35L293.19 609.35L293.59 609.35L293.99 609.35L294.39 609.35L294.79 609.35L295.19 609.35L295.59 609.35L295.99 609.35L296.39 609.35L296.79 609.35L297.19 609.35L297.59 609.35L297.99 609.35L298.39 609.35L298.79 609.35L299.19 609.35L299.59 609.35L299.99 609.35L300.39 609.35L300.79 609.35L301.19 609.35L301.59 609.35L301.99 609.35L302.39 609.35L302.79 609.35L303.19 609.35L303.59 609.35L303.99 609.35L304.39 609.35L304.79 609.35L305.19 609.35L305.59 609.35L305.99 609.35L306.39 609.35L306.79 609.35L307.19 609.35L307.59 609.35L307.99 609.35L308.39 609.35L308.79 609.35L309.19 609.35L309.59 609.35L309.99 609.35L310.39 609.35L310.79 609.35L311.19 609.35L311.59 609.35L311.99 609.35L312.39 609.35L312.79 609.35L313.19 609.35L313.59 609.35L313.99 609.35L314.39 609.35L314.79 609.35L315.19 609.35L315.59 609.35L315.99 609.35L316.39 609.35L316.79 609.35L317.19 609.35L317.59 609.35L317.99 609.35L318.39 609.35L318.79 609.35L319.19 609.35L319.59 609.35L319.99 609.35L320.39 609.35L320.79 609.35L321.19 609.35L321.59 609.35L321.99 609.35L322.39 609.35L322.79 609.35L323.19 609.35L323.59 609.35L323.99 609.35L324.39 609.35L324.79 609.35L325.19 609.35L325.59 609.35L325.99 609.35L326.39 609.35L326.79 609.35L327.44 609.35L327.44 609.35Z" fill="#ccccff" stroke="#000" stroke-width="2.9" stroke-linejoin="round" stroke-linecap="round"/>
<rect x="93.35" y="385.45" width="244.33" height="233.55" fill="none" stroke="#2b2b2b" stroke-width="1.90"/>
<text transform="translate(215.11,366.90) scale(0.920,1)" font-size="28" fill="#1a1a1a" text-anchor="middle">5</text>
<line x1="82.85" y1="609.35" x2="92.70" y2="609.35" stroke="#2b2b2b" stroke-width="3.70"/>
<text transform="translate(74.80,619.75) scale(0.920,1)" font-size="28" fill="#4d4d4d" text-anchor="end">0</text>
<line x1="82.85" y1="544.51" x2="92.70" y2="544.51" stroke="#2b2b2b" stroke-width="3.70"/>
<text transform="translate(74.80,554.91) scale(0.920,1)" font-size="28" fill="#4d4d4d" text-anchor="end">2</text>
<line x1="82.85" y1="479.67" x2="92.70" y2="479.67" stroke="#2b2b2b" stroke-width="3.70"/>
<text transform="translate(74.80,490.07) scale(0.920,1)" font-size="28" fill="#4d4d4d" text-anchor="end">4</text>
<line x1="82.85" y1="414.83" x2="92.70" y2="414.83" stroke="#2b2b2b" stroke-width="3.70"/>
<text transform="translate(74.80,425.23) scale(0.920,1)" font-size="28" fill="#4d4d4d" text-anchor="end">6</text>
<path d="M368.49 609.35L368.49 591.26L368.89 589.93L369.29 588.69L369.69 587.60L370.09 586.67L370.49 585.87L370.89 585.15L371.29 584.48L371.69 583.82L372.09 583.14L372.49 582.45L372.89 581.77L373.29 581.10L373.69 580.45L374.09 579.81L374.49 579.18L374.89 578.55L375.29 577.94L375.69 577.36L376.09 576.83L376.49 576.35L376.89 575.90L377.29 575.48L377.69 575.09L378.09 574.75L378.49 574.47L378.89 574.20L379.29 573.97L379.69 573.78L380.09 573.65L380.49 573.55L380.89 573.46L381.29 573.40L381.69 573.37L382.09 573.39L382.49 573.45L382.89 573.54L383.29 573.65L383.69 573.76L384.09 573.89L384.49 574.04L384.89 574.21L385.29 574.41L385.69 574.62L386.09 574.84L386.49 575.09L386.89 575.36L387.29 575.66L387.69 575.97L388.09 576.30L388.49 576.65L388.89 577.01L389.29 577.37L389.69 577.74L390.09 578.11L390.49 578.48L390.89 578.84L391.29 579.22L391.69 579.61L392.09 580.02L392.49 580.43L392.89 580.84L393.29 581.26L393.69 581.66L394.09 582.05L394.49 582.44L394.89 582.82L395.29 583.20L395.69 583.58L396.09 583.96L396.49 584.32L396.89 584.68L397.29 585.01L397.69 585.33L398.09 585.64L398.49 585.93L398.89 586.20L399.29 586.47L399.69 586.73L400.09 586.99L400.49 587.23L400.89 587.48L401.29 587.72L401.69 587.96L402.09 588.20L402.49 588.45L402.89 588.69L403.29 588.95L403.69 589.20L404.09 589.47L404.49 589.75L404.89 590.03L405.29 590.32L405.69 590.62L406.09 590.92L406.49 591.23L406.89 591.54L407.29 591.85L407.69 592.17L408.09 592.49L408.49 592.82L408.89 593.14L409.29 593.47L409.69 593.81L410.09 594.14L410.49 594.47L410.89 594.81L411.29 595.15L411.69 595.49L412.09 595.83L412.49 596.18L412.89 596.54L413.29 596.90L413.69 597.26L414.09 597.63L414.49 598.00L414.89 598.37L415.29 598.74L415.69 599.11L416.09 599.48L416.49 599.85L416.89 600.21L417.29 600.57L417.69 600.93L418.09 601.27L418.49 601.62L418.89 601.95L419.29 602.30L419.69 602.65L420.09 603.00L420.49 603.34L420.89 603.69L421.29 604.02L421.69 604.34L422.09 604.65L422.49 604.94L422.89 605.20L423.29 605.45L423.69 605.67L424.09 605.89L424.49 606.10L424.89 606.31L425.29 606.52L425.69 606.71L426.09 606.90L426.49 607.07L426.89 607.24L427.29 607.39L427.69 607.53L428.09 607.66L428.49 607.77L428.89 607.87L429.29 607.95L429.69 608.03L430.09 608.10L430.49 608.17L430.89 608.23L431.29 608.29L431.69 608.35L432.09 608.41L432.49 608.46L432.89 608.51L433.29 608.55L433.69 608.60L434.09 608.64L434.49 608.68L434.89 608.71L435.29 608.75L435.69 608.79L436.09 608.82L436.49 608.85L436.89 608.89L437.29 608.92L437.69 608.96L438.09 608.99L438.49 609.02L438.89 609.06L439.29 609.09L439.69 609.12L440.09 609.15L440.49 609.18L440.89 609.20L441.29 609.23L441.69 609.25L442.09 609.27L442.49 609.29L442.89 609.31L443.29 609.32L443.69 609.33L444.09 609.34L444.49 609.35L444.89 609.35L445.29 609.35L445.69 609.35L446.09 609.35L446.49 609.35L446.89 609.35L447.29 609.35L447.69 609.35L448.09 609.35L448.49 609.35L448.89 609.35L449.29 609.35L449.69 609.35L450.09 609.35L450.49 609.35L450.89 609.35L451.29 609.35L451.69 609.35L452.09 609.35L452.49 609.35L452.89 609.35L453.29 609.35L453.69 609.35L454.09 609.35L454.49 609.34L454.89 609.34L455.29 609.34L455.69 609.34L456.09 609.34L456.49 609.34L456.89 609.33L457.29 609.33L457.69 609.33L458.09 609.32L458.49 609.32L458.89 609.31L459.29 609.30L459.69 609.30L460.09 609.29L460.49 609.28L460.89 609.27L461.29 609.25L461.69 609.24L462.09 609.22L462.49 609.20L462.89 609.18L463.29 609.16L463.69 609.13L464.09 609.10L464.49 609.07L464.89 609.03L465.29 608.99L465.69 608.94L466.09 608.90L466.49 608.84L466.89 608.78L467.29 608.72L467.69 608.65L468.09 608.57L468.49 608.49L468.89 608.40L469.29 608.30L469.69 608.20L470.09 608.09L470.49 607.98L470.89 607.86L471.29 607.73L471.69 607.59L472.09 607.45L472.49 607.30L472.89 607.15L473.29 606.98L473.69 606.82L474.09 606.65L474.49 606.48L474.89 606.30L475.29 606.12L475.69 605.93L476.09 605.75L476.49 605.57L476.89 605.38L477.29 605.20L477.69 605.02L478.09 604.84L478.49 604.67L478.89 604.51L479.29 604.35L479.69 604.20L480.09 604.06L480.49 603.92L480.89 603.80L481.29 603.69L481.69 603.59L482.09 603.51L482.49 603.44L482.89 603.38L483.29 603.34L483.69 603.31L484.09 603.30L484.49 603.30L484.89 603.32L485.29 603.36L485.69 603.41L486.09 603.47L486.49 603.55L486.89 603.64L487.29 603.74L487.69 603.85L488.09 603.98L488.49 604.12L488.89 604.26L489.29 604.42L489.69 604.58L490.09 604.75L490.49 604.92L490.89 605.10L491.29 605.28L491.69 605.46L492.09 605.65L492.49 605.83L492.89 606.02L493.29 606.20L493.69 606.38L494.09 606.55L494.49 606.73L494.89 606.89L495.29 607.06L495.69 607.22L496.09 607.37L496.49 607.51L496.89 607.65L497.29 607.78L497.69 607.91L498.09 608.03L498.49 608.14L498.89 608.25L499.29 608.35L499.69 608.44L500.09 608.53L500.49 608.60L500.89 608.68L501.29 608.75L501.69 608.81L502.09 608.87L502.49 608.92L502.89 608.97L503.29 609.01L503.69 609.05L504.09 609.08L504.49 609.12L504.89 609.14L505.29 609.17L505.69 609.19L506.09 609.21L506.49 609.23L506.89 609.25L507.29 609.26L507.69 609.27L508.09 609.28L508.49 609.29L508.89 609.30L509.29 609.31L509.69 609.31L510.09 609.32L510.49 609.32L510.89 609.33L511.29 609.33L511.69 609.33L512.09 609.34L512.49 609.34L512.89 609.34L513.29 609.34L513.69 609.34L514.09 609.34L514.49 609.35L514.89 609.35L515.29 609.35L515.69 609.35L516.09 609.35L516.49 609.35L516.89 609.35L517.29 609.35L517.69 609.35L518.09 609.35L518.49 609.35L518.89 609.35L519.29 609.35L519.69 609.35L520.09 609.35L520.49 609.35L520.89 609.35L521.29 609.35L521.69 609.35L522.09 609.35L522.49 609.35L522.89 609.35L523.29 609.35L523.69 609.35L524.09 609.35L524.49 609.35L524.89 609.35L525.29 609.35L525.69 609.35L526.09 609.35L526.49 609.35L526.89 609.35L527.29 609.35L527.69 609.35L528.09 609.35L528.49 609.35L528.89 609.35L529.29 609.35L529.69 609.35L530.09 609.35L530.49 609.35L530.89 609.35L531.29 609.35L531.69 609.35L532.09 609.35L532.49 609.35L532.89 609.35L533.29 609.35L533.69 609.35L534.09 609.35L534.49 609.35L534.89 609.35L535.29 609.35L535.69 609.35L536.09 609.35L536.49 609.35L536.89 609.35L537.29 609.35L537.69 609.35L538.09 609.35L538.49 609.35L538.89 609.35L539.29 609.35L539.69 609.35L540.09 609.35L540.49 609.35L540.89 609.35L541.29 609.35L541.69 609.35L542.09 609.35L542.49 609.35L542.89 609.35L543.29 609.35L543.69 609.35L544.09 609.35L544.49 609.35L544.89 609.35L545.29 609.35L545.69 609.35L546.09 609.35L546.49 609.35L546.89 609.35L547.29 609.35L547.69 609.35L548.09 609.35L548.49 609.35L548.89 609.35L549.29 609.35L549.69 609.35L550.09 609.35L550.49 609.35L550.89 609.35L551.29 609.35L551.69 609.35L552.09 609.35L552.49 609.35L552.89 609.35L553.29 609.35L553.69 609.35L554.09 609.35L554.49 609.35L554.89 609.35L555.29 609.35L555.69 609.35L556.09 609.35L556.49 609.35L556.89 609.35L557.29 609.35L557.69 609.35L558.09 609.35L558.49 609.35L558.89 609.35L559.29 609.35L559.69 609.35L560.09 609.35L560.49 609.35L560.89 609.35L561.29 609.35L561.69 609.35L562.09 609.35L562.49 609.35L562.89 609.35L563.29 609.35L563.69 609.35L564.09 609.35L564.49 609.35L564.89 609.35L565.29 609.35L565.69 609.35L566.09 609.35L566.49 609.35L566.89 609.35L567.29 609.35L567.69 609.35L568.09 609.35L568.49 609.35L568.89 609.35L569.29 609.35L569.69 609.35L570.09 609.35L570.49 609.35L570.89 609.35L571.29 609.35L571.69 609.35L572.09 609.35L572.49 609.35L572.89 609.35L573.29 609.35L573.69 609.35L574.09 609.35L574.49 609.35L574.89 609.35L575.29 609.35L575.69 609.35L576.09 609.35L576.49 609.35L576.89 609.35L577.29 609.35L577.69 609.35L578.09 609.35L578.49 609.35L578.89 609.35L579.29 609.35L579.69 609.35L580.09 609.35L580.49 609.35L580.89 609.35L581.29 609.35L581.69 609.35L582.09 609.35L582.49 609.35L582.89 609.35L583.29 609.35L583.69 609.35L584.09 609.35L584.49 609.35L584.89 609.35L585.29 609.35L585.69 609.35L586.09 609.35L586.49 609.35L586.89 609.35L587.29 609.35L587.69 609.35L588.09 609.35L588.49 609.35L588.89 609.35L589.29 609.35L589.69 609.35L590.09 609.35L590.49 609.35L590.89 609.35L591.29 609.35L591.69 609.35L592.34 609.35L592.34 609.35Z" fill="#ccccff" stroke="#000" stroke-width="2.9" stroke-linejoin="round" stroke-linecap="round"/>
<rect x="358.25" y="385.45" width="244.33" height="233.55" fill="none" stroke="#2b2b2b" stroke-width="1.90"/>
<text transform="translate(480.02,366.90) scale(0.920,1)" font-size="28" fill="#1a1a1a" text-anchor="middle">6</text>
<path d="M633.39 609.35L633.39 594.72L633.79 593.88L634.19 593.01L634.59 592.12L634.99 591.21L635.39 590.27L635.79 589.31L636.19 588.33L636.59 587.32L636.99 586.26L637.39 585.16L637.79 584.06L638.19 582.95L638.59 581.86L638.99 580.80L639.39 579.74L639.79 578.65L640.19 577.57L640.59 576.51L640.99 575.47L641.39 574.48L641.79 573.56L642.19 572.72L642.59 571.91L642.99 571.11L643.39 570.35L643.79 569.65L644.19 569.01L644.59 568.48L644.99 568.06L645.39 567.68L645.79 567.31L646.19 566.98L646.59 566.71L646.99 566.52L647.39 566.44L647.79 566.48L648.19 566.61L648.59 566.83L648.99 567.10L649.39 567.42L649.79 567.76L650.19 568.11L650.59 568.50L650.99 568.97L651.39 569.52L651.79 570.12L652.19 570.77L652.59 571.44L652.99 572.11L653.39 572.78L653.79 573.46L654.19 574.17L654.59 574.92L654.99 575.69L655.39 576.47L655.79 577.27L656.19 578.06L656.59 578.85L656.99 579.63L657.39 580.39L657.79 581.13L658.19 581.86L658.59 582.61L658.99 583.34L659.39 584.07L659.79 584.78L660.19 585.47L660.59 586.13L660.99 586.74L661.39 587.32L661.79 587.87L662.19 588.40L662.59 588.91L662.99 589.40L663.39 589.87L663.79 590.34L664.19 590.79L664.59 591.24L664.99 591.68L665.39 592.12L665.79 592.55L666.19 592.97L666.59 593.38L666.99 593.78L667.39 594.17L667.79 594.55L668.19 594.91L668.59 595.25L668.99 595.58L669.39 595.90L669.79 596.20L670.19 596.50L670.59 596.79L670.99 597.06L671.39 597.34L671.79 597.60L672.19 597.85L672.59 598.10L672.99 598.35L673.39 598.58L673.79 598.81L674.19 599.04L674.59 599.26L674.99 599.47L675.39 599.68L675.79 599.88L676.19 600.09L676.59 600.28L676.99 600.48L677.39 600.68L677.79 600.87L678.19 601.06L678.59 601.25L678.99 601.45L679.39 601.64L679.79 601.84L680.19 602.04L680.59 602.24L680.99 602.44L681.39 602.65L681.79 602.86L682.19 603.08L682.59 603.30L682.99 603.52L683.39 603.74L683.79 603.96L684.19 604.19L684.59 604.41L684.99 604.62L685.39 604.84L685.79 605.05L686.19 605.25L686.59 605.45L686.99 605.64L687.39 605.82L687.79 606.00L688.19 606.17L688.59 606.33L688.99 606.49L689.39 606.65L689.79 606.80L690.19 606.94L690.59 607.09L690.99 607.22L691.39 607.35L691.79 607.48L692.19 607.60L692.59 607.71L692.99 607.81L693.39 607.92L693.79 608.02L694.19 608.13L694.59 608.24L694.99 608.34L695.39 608.44L695.79 608.52L696.19 608.59L696.59 608.64L696.99 608.66L697.39 608.66L697.79 608.63L698.19 608.57L698.59 608.50L698.99 608.44L699.39 608.37L699.79 608.29L700.19 608.21L700.59 608.13L700.99 608.04L701.39 607.95L701.79 607.86L702.19 607.76L702.59 607.66L702.99 607.55L703.39 607.44L703.79 607.33L704.19 607.21L704.59 607.09L704.99 606.97L705.39 606.84L705.79 606.71L706.19 606.58L706.59 606.45L706.99 606.32L707.39 606.18L707.79 606.04L708.19 605.90L708.59 605.77L708.99 605.63L709.39 605.49L709.79 605.36L710.19 605.22L710.59 605.09L710.99 604.96L711.39 604.83L711.79 604.71L712.19 604.59L712.59 604.47L712.99 604.36L713.39 604.26L713.79 604.16L714.19 604.07L714.59 603.98L714.99 603.90L715.39 603.83L715.79 603.77L716.19 603.71L716.59 603.66L716.99 603.62L717.39 603.59L717.79 603.57L718.19 603.55L718.59 603.55L718.99 603.55L719.39 603.57L719.79 603.59L720.19 603.62L720.59 603.66L720.99 603.71L721.39 603.76L721.79 603.83L722.19 603.90L722.59 603.98L722.99 604.06L723.39 604.16L723.79 604.25L724.19 604.36L724.59 604.47L724.99 604.58L725.39 604.70L725.79 604.83L726.19 604.95L726.59 605.08L726.99 605.21L727.39 605.35L727.79 605.48L728.19 605.62L728.59 605.76L728.99 605.90L729.39 606.04L729.79 606.17L730.19 606.31L730.59 606.44L730.99 606.58L731.39 606.71L731.79 606.84L732.19 606.96L732.59 607.09L732.99 607.21L733.39 607.32L733.79 607.44L734.19 607.55L734.59 607.65L734.99 607.76L735.39 607.85L735.79 607.95L736.19 608.04L736.59 608.13L736.99 608.21L737.39 608.29L737.79 608.36L738.19 608.43L738.59 608.50L738.99 608.56L739.39 608.62L739.79 608.68L740.19 608.73L740.59 608.78L740.99 608.83L741.39 608.87L741.79 608.91L742.19 608.95L742.59 608.98L742.99 609.02L743.39 609.05L743.79 609.08L744.19 609.10L744.59 609.12L744.99 609.15L745.39 609.17L745.79 609.18L746.19 609.20L746.59 609.21L746.99 609.23L747.39 609.24L747.79 609.25L748.19 609.26L748.59 609.27L748.99 609.28L749.39 609.28L749.79 609.29L750.19 609.30L750.59 609.30L750.99 609.30L751.39 609.31L751.79 609.31L752.19 609.31L752.59 609.31L752.99 609.31L753.39 609.30L753.79 609.30L754.19 609.29L754.59 609.29L754.99 609.28L755.39 609.27L755.79 609.26L756.19 609.24L756.59 609.23L756.99 609.21L757.39 609.19L757.79 609.17L758.19 609.14L758.59 609.11L758.99 609.07L759.39 609.04L759.79 608.99L760.19 608.95L760.59 608.89L760.99 608.84L761.39 608.78L761.79 608.71L762.19 608.63L762.59 608.56L762.99 608.47L763.39 608.38L763.79 608.28L764.19 608.18L764.59 608.07L764.99 607.96L765.39 607.84L765.79 607.72L766.19 607.59L766.59 607.46L766.99 607.33L767.39 607.19L767.79 607.06L768.19 606.92L768.59 606.78L768.99 606.65L769.39 606.51L769.79 606.39L770.19 606.26L770.59 606.14L770.99 606.03L771.39 605.92L771.79 605.83L772.19 605.74L772.59 605.66L772.99 605.60L773.39 605.54L773.79 605.50L774.19 605.47L774.59 605.45L774.99 605.45L775.39 605.46L775.79 605.48L776.19 605.52L776.59 605.57L776.99 605.62L777.39 605.70L777.79 605.78L778.19 605.87L778.59 605.97L778.99 606.08L779.39 606.19L779.79 606.32L780.19 606.44L780.59 606.57L780.99 606.71L781.39 606.84L781.79 606.98L782.19 607.12L782.59 607.25L782.99 607.39L783.39 607.52L783.79 607.65L784.19 607.77L784.59 607.90L784.99 608.01L785.39 608.12L785.79 608.23L786.19 608.33L786.59 608.42L786.99 608.51L787.39 608.59L787.79 608.67L788.19 608.74L788.59 608.81L788.99 608.87L789.39 608.92L789.79 608.97L790.19 609.02L790.59 609.06L790.99 609.09L791.39 609.13L791.79 609.16L792.19 609.18L792.59 609.20L792.99 609.22L793.39 609.24L793.79 609.26L794.19 609.27L794.59 609.28L794.99 609.29L795.39 609.30L795.79 609.31L796.19 609.32L796.59 609.32L796.99 609.33L797.39 609.33L797.79 609.33L798.19 609.34L798.59 609.34L798.99 609.34L799.39 609.34L799.79 609.34L800.19 609.35L800.59 609.35L800.99 609.35L801.39 609.35L801.79 609.35L802.19 609.35L802.59 609.35L802.99 609.35L803.39 609.35L803.79 609.35L804.19 609.35L804.59 609.35L804.99 609.35L805.39 609.35L805.79 609.35L806.19 609.35L806.59 609.35L806.99 609.35L807.39 609.35L807.79 609.35L808.19 609.35L808.59 609.35L808.99 609.35L809.39 609.35L809.79 609.35L810.19 609.35L810.59 609.35L810.99 609.35L811.39 609.35L811.79 609.35L812.19 609.35L812.59 609.35L812.99 609.35L813.39 609.35L813.79 609.35L814.19 609.35L814.59 609.35L814.99 609.35L815.39 609.35L815.79 609.35L816.19 609.35L816.59 609.35L816.99 609.35L817.39 609.35L817.79 609.35L818.19 609.35L818.59 609.35L818.99 609.35L819.39 609.35L819.79 609.35L820.19 609.35L820.59 609.35L820.99 609.35L821.39 609.35L821.79 609.35L822.19 609.35L822.59 609.35L822.99 609.35L823.39 609.35L823.79 609.35L824.19 609.35L824.59 609.35L824.99 609.35L825.39 609.35L825.79 609.35L826.19 609.35L826.59 609.35L826.99 609.35L827.39 609.35L827.79 609.35L828.19 609.35L828.59 609.35L828.99 609.35L829.39 609.35L829.79 609.35L830.19 609.35L830.59 609.35L830.99 609.35L831.39 609.35L831.79 609.35L832.19 609.35L832.59 609.35L832.99 609.35L833.39 609.35L833.79 609.35L834.19 609.35L834.59 609.35L834.99 609.35L835.39 609.35L835.79 609.35L836.19 609.35L836.59 609.35L836.99 609.35L837.39 609.35L837.79 609.35L838.19 609.35L838.59 609.35L838.99 609.35L839.39 609.35L839.79 609.35L840.19 609.35L840.59 609.35L840.99 609.35L841.39 609.35L841.79 609.35L842.19 609.35L842.59 609.35L842.99 609.35L843.39 609.35L843.79 609.35L844.19 609.35L844.59 609.35L844.99 609.35L845.39 609.35L845.79 609.35L846.19 609.35L846.59 609.35L846.99 609.35L847.39 609.35L847.79 609.35L848.19 609.35L848.59 609.35L848.99 609.35L849.39 609.35L849.79 609.35L850.19 609.35L850.59 609.35L850.99 609.35L851.39 609.35L851.79 609.35L852.19 609.35L852.59 609.35L852.99 609.35L853.39 609.35L853.79 609.35L854.19 609.35L854.59 609.35L854.99 609.35L855.39 609.35L855.79 609.35L856.19 609.35L856.59 609.35L857.24 609.35L857.24 609.35Z" fill="#ccccff" stroke="#000" stroke-width="2.9" stroke-linejoin="round" stroke-linecap="round"/>
<rect x="623.15" y="385.45" width="244.33" height="233.55" fill="none" stroke="#2b2b2b" stroke-width="1.90"/>
<text transform="translate(744.92,366.90) scale(0.920,1)" font-size="28" fill="#1a1a1a" text-anchor="middle">7</text>
<path d="M898.29 609.35L898.29 607.69L898.69 607.44L899.09 607.13L899.49 606.78L899.89 606.39L900.29 605.97L900.69 605.52L901.09 605.05L901.49 604.54L901.89 603.99L902.29 603.39L902.69 602.73L903.09 602.02L903.49 601.23L903.89 600.38L904.29 599.42L904.69 598.28L905.09 597.01L905.49 595.63L905.89 594.18L906.29 592.69L906.69 591.20L907.09 589.67L907.49 588.05L907.89 586.37L908.29 584.65L908.69 582.92L909.09 581.22L909.49 579.53L909.89 577.81L910.29 576.06L910.69 574.33L911.09 572.65L911.49 571.05L911.89 569.59L912.29 568.17L912.69 566.77L913.09 565.43L913.49 564.18L913.89 563.08L914.29 562.14L914.69 561.35L915.09 560.62L915.49 559.97L915.89 559.41L916.29 558.96L916.69 558.62L917.09 558.31L917.49 558.06L917.89 557.93L918.29 557.97L918.69 558.13L919.09 558.38L919.49 558.68L919.89 558.98L920.29 559.32L920.69 559.74L921.09 560.22L921.49 560.75L921.89 561.34L922.29 562.05L922.69 562.84L923.09 563.68L923.49 564.56L923.89 565.44L924.29 566.30L924.69 567.17L925.09 568.07L925.49 568.99L925.89 569.90L926.29 570.81L926.69 571.73L927.09 572.66L927.49 573.60L927.89 574.53L928.29 575.46L928.69 576.38L929.09 577.28L929.49 578.15L929.89 578.98L930.29 579.79L930.69 580.56L931.09 581.32L931.49 582.08L931.89 582.83L932.29 583.59L932.69 584.36L933.09 585.16L933.49 585.98L933.89 586.82L934.29 587.68L934.69 588.53L935.09 589.38L935.49 590.22L935.89 591.03L936.29 591.82L936.69 592.57L937.09 593.29L937.49 594.01L937.89 594.72L938.29 595.41L938.69 596.08L939.09 596.74L939.49 597.37L939.89 597.97L940.29 598.55L940.69 599.09L941.09 599.61L941.49 600.11L941.89 600.59L942.29 601.06L942.69 601.51L943.09 601.94L943.49 602.35L943.89 602.73L944.29 603.10L944.69 603.45L945.09 603.77L945.49 604.07L945.89 604.36L946.29 604.63L946.69 604.89L947.09 605.12L947.49 605.34L947.89 605.55L948.29 605.74L948.69 605.91L949.09 606.06L949.49 606.20L949.89 606.32L950.29 606.43L950.69 606.52L951.09 606.59L951.49 606.64L951.89 606.67L952.29 606.69L952.69 606.71L953.09 606.72L953.49 606.73L953.89 606.72L954.29 606.69L954.69 606.65L955.09 606.58L955.49 606.48L955.89 606.36L956.29 606.20L956.69 606.04L957.09 605.89L957.49 605.75L957.89 605.61L958.29 605.48L958.69 605.37L959.09 605.26L959.49 605.17L959.89 605.10L960.29 605.04L960.69 604.99L961.09 604.96L961.49 604.94L961.89 604.95L962.29 604.97L962.69 605.00L963.09 605.05L963.49 605.12L963.89 605.19L964.29 605.29L964.69 605.39L965.09 605.50L965.49 605.63L965.89 605.76L966.29 605.89L966.69 606.04L967.09 606.18L967.49 606.32L967.89 606.47L968.29 606.61L968.69 606.75L969.09 606.88L969.49 607.01L969.89 607.12L970.29 607.23L970.69 607.33L971.09 607.42L971.49 607.49L971.89 607.55L972.29 607.60L972.69 607.63L973.09 607.65L973.49 607.66L973.89 607.65L974.29 607.62L974.69 607.58L975.09 607.53L975.49 607.46L975.89 607.38L976.29 607.29L976.69 607.19L977.09 607.07L977.49 606.95L977.89 606.82L978.29 606.69L978.69 606.55L979.09 606.40L979.49 606.26L979.89 606.11L980.29 605.97L980.69 605.83L981.09 605.70L981.49 605.57L981.89 605.45L982.29 605.34L982.69 605.24L983.09 605.16L983.49 605.08L983.89 605.03L984.29 604.98L984.69 604.96L985.09 604.94L985.49 604.95L985.89 604.97L986.29 605.01L986.69 605.06L987.09 605.13L987.49 605.21L987.89 605.31L988.29 605.42L988.69 605.54L989.09 605.67L989.49 605.81L989.89 605.96L990.29 606.11L990.69 606.27L991.09 606.43L991.49 606.59L991.89 606.76L992.29 606.92L992.69 607.08L993.09 607.24L993.49 607.40L993.89 607.55L994.29 607.70L994.69 607.83L995.09 607.97L995.49 608.09L995.89 608.21L996.29 608.32L996.69 608.43L997.09 608.52L997.49 608.61L997.89 608.70L998.29 608.77L998.69 608.84L999.09 608.90L999.49 608.96L999.89 609.01L1000.29 609.05L1000.69 609.09L1001.09 609.13L1001.49 609.16L1001.89 609.19L1002.29 609.21L1002.69 609.23L1003.09 609.25L1003.49 609.27L1003.89 609.28L1004.29 609.29L1004.69 609.30L1005.09 609.31L1005.49 609.32L1005.89 609.32L1006.29 609.33L1006.69 609.33L1007.09 609.33L1007.49 609.34L1007.89 609.34L1008.29 609.34L1008.69 609.34L1009.09 609.34L1009.49 609.35L1009.89 609.35L1010.29 609.35L1010.69 609.35L1011.09 609.35L1011.49 609.35L1011.89 609.35L1012.29 609.35L1012.69 609.35L1013.09 609.35L1013.49 609.35L1013.89 609.35L1014.29 609.35L1014.69 609.35L1015.09 609.35L1015.49 609.35L1015.89 609.35L1016.29 609.35L1016.69 609.35L1017.09 609.35L1017.49 609.35L1017.89 609.35L1018.29 609.35L1018.69 609.35L1019.09 609.35L1019.49 609.35L1019.89 609.35L1020.29 609.35L1020.69 609.35L1021.09 609.35L1021.49 609.35L1021.89 609.35L1022.29 609.35L1022.69 609.35L1023.09 609.35L1023.49 609.35L1023.89 609.35L1024.29 609.35L1024.69 609.35L1025.09 609.35L1025.49 609.35L1025.89 609.35L1026.29 609.35L1026.69 609.35L1027.09 609.35L1027.49 609.35L1027.89 609.35L1028.29 609.35L1028.69 609.34L1029.09 609.34L1029.49 609.34L1029.89 609.34L1030.29 609.34L1030.69 609.33L1031.09 609.33L1031.49 609.33L1031.89 609.32L1032.29 609.31L1032.69 609.31L1033.09 609.30L1033.49 609.29L1033.89 609.27L1034.29 609.26L1034.69 609.24L1035.09 609.22L1035.49 609.20L1035.89 609.18L1036.29 609.15L1036.69 609.11L1037.09 609.08L1037.49 609.03L1037.89 608.99L1038.29 608.93L1038.69 608.87L1039.09 608.81L1039.49 608.74L1039.89 608.66L1040.29 608.57L1040.69 608.48L1041.09 608.38L1041.49 608.27L1041.89 608.16L1042.29 608.04L1042.69 607.91L1043.09 607.77L1043.49 607.63L1043.89 607.48L1044.29 607.33L1044.69 607.17L1045.09 607.01L1045.49 606.85L1045.89 606.69L1046.29 606.52L1046.69 606.36L1047.09 606.20L1047.49 606.04L1047.89 605.89L1048.29 605.75L1048.69 605.61L1049.09 605.49L1049.49 605.37L1049.89 605.27L1050.29 605.18L1050.69 605.10L1051.09 605.04L1051.49 604.99L1051.89 604.96L1052.29 604.95L1052.69 604.95L1053.09 604.97L1053.49 605.01L1053.89 605.06L1054.29 605.13L1054.69 605.21L1055.09 605.31L1055.49 605.42L1055.89 605.54L1056.29 605.67L1056.69 605.81L1057.09 605.96L1057.49 606.11L1057.89 606.27L1058.29 606.43L1058.69 606.60L1059.09 606.76L1059.49 606.92L1059.89 607.08L1060.29 607.24L1060.69 607.40L1061.09 607.55L1061.49 607.70L1061.89 607.83L1062.29 607.97L1062.69 608.09L1063.09 608.21L1063.49 608.32L1063.89 608.43L1064.29 608.52L1064.69 608.61L1065.09 608.70L1065.49 608.77L1065.89 608.84L1066.29 608.90L1066.69 608.96L1067.09 609.01L1067.49 609.05L1067.89 609.09L1068.29 609.13L1068.69 609.16L1069.09 609.19L1069.49 609.21L1069.89 609.23L1070.29 609.25L1070.69 609.27L1071.09 609.28L1071.49 609.29L1071.89 609.30L1072.29 609.31L1072.69 609.32L1073.09 609.32L1073.49 609.33L1073.89 609.33L1074.29 609.33L1074.69 609.34L1075.09 609.34L1075.49 609.34L1075.89 609.34L1076.29 609.34L1076.69 609.35L1077.09 609.35L1077.49 609.35L1077.89 609.35L1078.29 609.35L1078.69 609.35L1079.09 609.35L1079.49 609.35L1079.89 609.35L1080.29 609.35L1080.69 609.35L1081.09 609.35L1081.49 609.35L1081.89 609.35L1082.29 609.35L1082.69 609.35L1083.09 609.35L1083.49 609.35L1083.89 609.35L1084.29 609.35L1084.69 609.35L1085.09 609.35L1085.49 609.35L1085.89 609.35L1086.29 609.35L1086.69 609.35L1087.09 609.35L1087.49 609.35L1087.89 609.35L1088.29 609.35L1088.69 609.35L1089.09 609.35L1089.49 609.35L1089.89 609.35L1090.29 609.35L1090.69 609.35L1091.09 609.35L1091.49 609.35L1091.89 609.35L1092.29 609.35L1092.69 609.35L1093.09 609.35L1093.49 609.35L1093.89 609.35L1094.29 609.35L1094.69 609.35L1095.09 609.35L1095.49 609.35L1095.89 609.35L1096.29 609.35L1096.69 609.35L1097.09 609.35L1097.49 609.35L1097.89 609.35L1098.29 609.35L1098.69 609.35L1099.09 609.35L1099.49 609.35L1099.89 609.35L1100.29 609.35L1100.69 609.35L1101.09 609.35L1101.49 609.35L1101.89 609.35L1102.29 609.35L1102.69 609.35L1103.09 609.35L1103.49 609.35L1103.89 609.35L1104.29 609.35L1104.69 609.35L1105.09 609.35L1105.49 609.35L1105.89 609.35L1106.29 609.35L1106.69 609.35L1107.09 609.35L1107.49 609.35L1107.89 609.35L1108.29 609.35L1108.69 609.35L1109.09 609.35L1109.49 609.35L1109.89 609.35L1110.29 609.35L1110.69 609.35L1111.09 609.35L1111.49 609.35L1111.89 609.35L1112.29 609.35L1112.69 609.35L1113.09 609.35L1113.49 609.35L1113.89 609.35L1114.29 609.35L1114.69 609.35L1115.09 609.35L1115.49 609.35L1115.89 609.35L1116.29 609.35L1116.69 609.35L1117.09 609.35L1117.49 609.35L1117.89 609.35L1118.29 609.35L1118.69 609.35L1119.09 609.35L1119.49 609.35L1119.89 609.35L1120.29 609.35L1120.69 609.35L1121.09 609.35L1121.49 609.35L1122.14 609.35L1122.14 609.35Z" fill="#ccccff" stroke="#000" stroke-width="2.9" stroke-linejoin="round" stroke-linecap="round"/>
<rect x="888.05" y="385.45" width="244.33" height="233.55" fill="none" stroke="#2b2b2b" stroke-width="1.90"/>
<text transform="translate(1009.82,366.90) scale(0.920,1)" font-size="28" fill="#1a1a1a" text-anchor="middle">8</text>
<path d="M103.59 919.35L103.59 912.95L103.99 910.91L104.39 908.73L104.79 906.43L105.19 903.97L105.59 901.34L105.99 898.59L106.39 895.81L106.79 892.98L107.19 890.07L107.59 887.10L107.99 884.04L108.39 880.85L108.79 877.58L109.19 874.30L109.59 871.09L109.99 867.89L110.39 864.72L110.79 861.59L111.19 858.49L111.59 855.39L111.99 852.42L112.39 849.68L112.79 847.01L113.19 844.63L113.59 842.84L113.99 841.42L114.39 840.43L114.79 839.80L115.19 839.38L115.59 839.42L115.99 839.88L116.39 840.57L116.79 841.89L117.19 843.66L117.59 845.55L117.99 847.74L118.39 850.14L118.79 852.80L119.19 855.75L119.59 858.79L119.99 861.73L120.39 864.70L120.79 867.65L121.19 870.53L121.59 873.33L121.99 876.10L122.39 878.75L122.79 881.18L123.19 883.45L123.59 885.56L123.99 887.48L124.39 889.17L124.79 890.73L125.19 892.14L125.59 893.37L125.99 894.43L126.39 895.39L126.79 896.25L127.19 897.00L127.59 897.65L127.99 898.23L128.39 898.75L128.79 899.20L129.19 899.57L129.59 899.85L129.99 900.10L130.39 900.32L130.79 900.51L131.19 900.66L131.59 900.79L131.99 900.90L132.39 900.99L132.79 901.08L133.19 901.17L133.59 901.27L133.99 901.39L134.39 901.52L134.79 901.66L135.19 901.82L135.59 902.02L135.99 902.28L136.39 902.62L136.79 903.02L137.19 903.47L137.59 903.97L137.99 904.59L138.39 905.28L138.79 906.01L139.19 906.73L139.59 907.48L139.99 908.25L140.39 909.01L140.79 909.71L141.19 910.37L141.59 911.03L141.99 911.61L142.39 912.05L142.79 912.35L143.19 912.63L143.59 912.86L143.99 913.01L144.39 913.07L144.79 913.06L145.19 913.04L145.59 913.02L145.99 912.99L146.39 912.96L146.79 912.92L147.19 912.87L147.59 912.80L147.99 912.75L148.39 912.71L148.79 912.73L149.19 912.85L149.59 913.03L149.99 913.25L150.39 913.46L150.79 913.71L151.19 914.00L151.59 914.32L151.99 914.66L152.39 915.00L152.79 915.37L153.19 915.77L153.59 916.17L153.99 916.54L154.39 916.87L154.79 917.16L155.19 917.44L155.59 917.70L155.99 917.95L156.39 918.18L156.79 918.39L157.19 918.62L157.59 918.86L157.99 919.07L158.39 919.24L158.79 919.34L159.19 919.35L159.59 919.35L159.99 919.35L160.39 919.35L160.79 919.35L161.19 919.35L161.59 919.35L161.99 919.35L162.39 919.35L162.79 919.35L163.19 919.35L163.59 919.35L163.99 919.35L164.39 919.35L164.79 919.35L165.19 919.35L165.59 919.35L165.99 919.35L166.39 919.35L166.79 919.35L167.19 919.35L167.59 919.35L167.99 919.35L168.39 919.35L168.79 919.35L169.19 919.35L169.59 919.35L169.99 919.35L170.39 919.35L170.79 919.35L171.19 919.35L171.59 919.35L171.99 919.35L172.39 919.35L172.79 919.35L173.19 919.35L173.59 919.35L173.99 919.35L174.39 919.35L174.79 919.35L175.19 919.35L175.59 919.35L175.99 919.35L176.39 919.35L176.79 919.35L177.19 919.35L177.59 919.35L177.99 919.35L178.39 919.35L178.79 919.35L179.19 919.35L179.59 919.35L179.99 919.35L180.39 919.35L180.79 919.35L181.19 919.35L181.59 919.35L181.99 919.35L182.39 919.35L182.79 919.35L183.19 919.35L183.59 919.35L183.99 919.35L184.39 919.35L184.79 919.35L185.19 919.35L185.59 919.35L185.99 919.35L186.39 919.35L186.79 919.35L187.19 919.35L187.59 919.35L187.99 919.35L188.39 919.35L188.79 919.35L189.19 919.35L189.59 919.35L189.99 919.35L190.39 919.35L190.79 919.35L191.19 919.35L191.59 919.35L191.99 919.35L192.39 919.35L192.79 919.35L193.19 919.35L193.59 919.35L193.99 919.35L194.39 919.35L194.79 919.35L195.19 919.35L195.59 919.35L195.99 919.35L196.39 919.35L196.79 919.35L197.19 919.35L197.59 919.35L197.99 919.35L198.39 919.35L198.79 919.35L199.19 919.35L199.59 919.35L199.99 919.35L200.39 919.35L200.79 919.35L201.19 919.35L201.59 919.35L201.99 919.35L202.39 919.35L202.79 919.35L203.19 919.35L203.59 919.35L203.99 919.35L204.39 919.35L204.79 919.35L205.19 919.35L205.59 919.35L205.99 919.35L206.39 919.35L206.79 919.35L207.19 919.35L207.59 919.35L207.99 919.35L208.39 919.35L208.79 919.35L209.19 919.35L209.59 919.35L209.99 919.35L210.39 919.35L210.79 919.35L211.19 919.35L211.59 919.35L211.99 919.35L212.39 919.35L212.79 919.35L213.19 919.35L213.59 919.35L213.99 919.35L214.39 919.35L214.79 919.35L215.19 919.35L215.59 919.35L215.99 919.35L216.39 919.35L216.79 919.35L217.19 919.35L217.59 919.35L217.99 919.35L218.39 919.35L218.79 919.35L219.19 919.35L219.59 919.35L219.99 919.35L220.39 919.35L220.79 919.35L221.19 919.35L221.59 919.35L221.99 919.35L222.39 919.35L222.79 919.35L223.19 919.35L223.59 919.35L223.99 919.35L224.39 919.35L224.79 919.35L225.19 919.35L225.59 919.35L225.99 919.35L226.39 919.35L226.79 919.35L227.19 919.35L227.59 919.35L227.99 919.35L228.39 919.35L228.79 919.35L229.19 919.35L229.59 919.35L229.99 919.35L230.39 919.35L230.79 919.35L231.19 919.35L231.59 919.35L231.99 919.35L232.39 919.35L232.79 919.35L233.19 919.35L233.59 919.35L233.99 919.35L234.39 919.35L234.79 919.35L235.19 919.35L235.59 919.35L235.99 919.35L236.39 919.35L236.79 919.35L237.19 919.35L237.59 919.35L237.99 919.35L238.39 919.35L238.79 919.35L239.19 919.35L239.59 919.35L239.99 919.35L240.39 919.35L240.79 919.35L241.19 919.35L241.59 919.35L241.99 919.35L242.39 919.35L242.79 919.35L243.19 919.35L243.59 919.35L243.99 919.35L244.39 919.35L244.79 919.35L245.19 919.35L245.59 919.35L245.99 919.35L246.39 919.35L246.79 919.35L247.19 919.35L247.59 919.35L247.99 919.35L248.39 919.35L248.79 919.35L249.19 919.35L249.59 919.35L249.99 919.35L250.39 919.35L250.79 919.35L251.19 919.35L251.59 919.35L251.99 919.35L252.39 919.35L252.79 919.35L253.19 919.35L253.59 919.35L253.99 919.35L254.39 919.35L254.79 919.35L255.19 919.35L255.59 919.35L255.99 919.35L256.39 919.35L256.79 919.35L257.19 919.35L257.59 919.35L257.99 919.35L258.39 919.35L258.79 919.35L259.19 919.35L259.59 919.35L259.99 919.35L260.39 919.35L260.79 919.35L261.19 919.35L261.59 919.35L261.99 919.35L262.39 919.35L262.79 919.35L263.19 919.35L263.59 919.35L263.99 919.35L264.39 919.35L264.79 919.35L265.19 919.35L265.59 919.35L265.99 919.35L266.39 919.35L266.79 919.35L267.19 919.35L267.59 919.35L267.99 919.35L268.39 919.35L268.79 919.35L269.19 919.35L269.59 919.35L269.99 919.35L270.39 919.35L270.79 919.35L271.19 919.35L271.59 919.35L271.99 919.35L272.39 919.35L272.79 919.35L273.19 919.35L273.59 919.35L273.99 919.35L274.39 919.35L274.79 919.35L275.19 919.35L275.59 919.35L275.99 919.35L276.39 919.35L276.79 919.35L277.19 919.35L277.59 919.35L277.99 919.35L278.39 919.35L278.79 919.35L279.19 919.35L279.59 919.35L279.99 919.35L280.39 919.35L280.79 919.35L281.19 919.35L281.59 919.35L281.99 919.35L282.39 919.35L282.79 919.35L283.19 919.35L283.59 919.35L283.99 919.35L284.39 919.35L284.79 919.35L285.19 919.35L285.59 919.35L285.99 919.35L286.39 919.35L286.79 919.35L287.19 919.35L287.59 919.35L287.99 919.35L288.39 919.35L288.79 919.35L289.19 919.35L289.59 919.35L289.99 919.35L290.39 919.35L290.79 919.35L291.19 919.35L291.59 919.35L291.99 919.35L292.39 919.35L292.79 919.35L293.19 919.35L293.59 919.35L293.99 919.35L294.39 919.35L294.79 919.35L295.19 919.35L295.59 919.35L295.99 919.35L296.39 919.35L296.79 919.35L297.19 919.35L297.59 919.35L297.99 919.35L298.39 919.35L298.79 919.35L299.19 919.35L299.59 919.35L299.99 919.35L300.39 919.35L300.79 919.35L301.19 919.35L301.59 919.35L301.99 919.35L302.39 919.35L302.79 919.35L303.19 919.35L303.59 919.35L303.99 919.35L304.39 919.35L304.79 919.35L305.19 919.35L305.59 919.35L305.99 919.35L306.39 919.35L306.79 919.35L307.19 919.35L307.59 919.35L307.99 919.35L308.39 919.35L308.79 919.35L309.19 919.35L309.59 919.35L309.99 919.35L310.39 919.35L310.79 919.35L311.19 919.35L311.59 919.35L311.99 919.35L312.39 919.35L312.79 919.35L313.19 919.35L313.59 919.35L313.99 919.35L314.39 919.35L314.79 919.35L315.19 919.35L315.59 919.35L315.99 919.35L316.39 919.35L316.79 919.35L317.19 919.35L317.59 919.35L317.99 919.35L318.39 919.35L318.79 919.35L319.19 919.35L319.59 919.35L319.99 919.35L320.39 919.35L320.79 919.35L321.19 919.35L321.59 919.35L321.99 919.35L322.39 919.35L322.79 919.35L323.19 919.35L323.59 919.35L323.99 919.35L324.39 919.35L324.79 919.35L325.19 919.35L325.59 919.35L325.99 919.35L326.39 919.35L326.79 919.35L327.44 919.35L327.44 919.35Z" fill="#ccccff" stroke="#000" stroke-width="2.9" stroke-linejoin="round" stroke-linecap="round"/>
<rect x="93.35" y="695.45" width="244.33" height="233.55" fill="none" stroke="#2b2b2b" stroke-width="1.90"/>
<text transform="translate(215.11,676.90) scale(0.920,1)" font-size="28" fill="#1a1a1a" text-anchor="middle">9</text>
<line x1="82.85" y1="919.35" x2="92.70" y2="919.35" stroke="#2b2b2b" stroke-width="3.70"/>
<text transform="translate(74.80,929.75) scale(0.920,1)" font-size="28" fill="#4d4d4d" text-anchor="end">0</text>
<line x1="82.85" y1="854.51" x2="92.70" y2="854.51" stroke="#2b2b2b" stroke-width="3.70"/>
<text transform="translate(74.80,864.91) scale(0.920,1)" font-size="28" fill="#4d4d4d" text-anchor="end">2</text>
<line x1="82.85" y1="789.67" x2="92.70" y2="789.67" stroke="#2b2b2b" stroke-width="3.70"/>
<text transform="translate(74.80,800.07) scale(0.920,1)" font-size="28" fill="#4d4d4d" text-anchor="end">4</text>
<line x1="82.85" y1="724.83" x2="92.70" y2="724.83" stroke="#2b2b2b" stroke-width="3.70"/>
<text transform="translate(74.80,735.23) scale(0.920,1)" font-size="28" fill="#4d4d4d" text-anchor="end">6</text>
<path d="M368.49 919.35L368.49 891.54L368.89 887.70L369.29 883.89L369.69 879.99L370.09 876.23L370.49 873.00L370.89 870.09L371.29 867.67L371.69 865.71L372.09 864.08L372.49 863.03L372.89 862.29L373.29 861.79L373.69 861.62L374.09 861.51L374.49 861.46L374.89 861.51L375.29 861.72L375.69 861.91L376.09 861.93L376.49 861.89L376.89 861.84L377.29 861.66L377.69 861.13L378.09 860.39L378.49 859.51L378.89 858.27L379.29 856.87L379.69 855.41L380.09 853.79L380.49 852.13L380.89 850.47L381.29 848.77L381.69 847.25L382.09 846.02L382.49 844.99L382.89 844.38L383.29 843.96L383.69 843.87L384.09 844.16L384.49 844.65L384.89 845.40L385.29 846.56L385.69 847.88L386.09 849.47L386.49 851.32L386.89 853.36L387.29 855.54L387.69 858.03L388.09 860.73L388.49 863.49L388.89 866.17L389.29 868.87L389.69 871.59L390.09 874.32L390.49 877.07L390.89 879.85L391.29 882.64L391.69 885.41L392.09 888.11L392.49 890.78L392.89 893.41L393.29 895.97L393.69 898.44L394.09 900.87L394.49 903.19L394.89 905.34L395.29 907.38L395.69 909.31L396.09 911.02L396.49 912.42L396.89 913.66L397.29 914.75L397.69 915.65L398.09 916.34L398.49 916.95L398.89 917.48L399.29 917.90L399.69 918.23L400.09 918.52L400.49 918.79L400.89 919.02L401.29 919.21L401.69 919.32L402.09 919.35L402.49 919.35L402.89 919.35L403.29 919.35L403.69 919.35L404.09 919.35L404.49 919.35L404.89 919.35L405.29 919.35L405.69 919.35L406.09 919.35L406.49 919.35L406.89 919.35L407.29 919.35L407.69 919.35L408.09 919.35L408.49 919.35L408.89 919.35L409.29 919.35L409.69 919.35L410.09 919.35L410.49 919.35L410.89 919.35L411.29 919.35L411.69 919.35L412.09 919.35L412.49 919.35L412.89 919.35L413.29 919.35L413.69 919.35L414.09 919.35L414.49 919.35L414.89 919.35L415.29 919.35L415.69 919.35L416.09 919.35L416.49 919.35L416.89 919.35L417.29 919.35L417.69 919.35L418.09 919.35L418.49 919.35L418.89 919.35L419.29 919.35L419.69 919.35L420.09 919.35L420.49 919.35L420.89 919.35L421.29 919.35L421.69 919.35L422.09 919.35L422.49 919.35L422.89 919.35L423.29 919.35L423.69 919.35L424.09 919.35L424.49 919.35L424.89 919.35L425.29 919.35L425.69 919.35L426.09 919.35L426.49 919.35L426.89 919.35L427.29 919.35L427.69 919.35L428.09 919.35L428.49 919.35L428.89 919.35L429.29 919.35L429.69 919.35L430.09 919.35L430.49 919.35L430.89 919.35L431.29 919.35L431.69 919.35L432.09 919.35L432.49 919.35L432.89 919.35L433.29 919.35L433.69 919.35L434.09 919.35L434.49 919.35L434.89 919.35L435.29 919.35L435.69 919.35L436.09 919.35L436.49 919.35L436.89 919.35L437.29 919.35L437.69 919.35L438.09 919.35L438.49 919.35L438.89 919.35L439.29 919.35L439.69 919.35L440.09 919.35L440.49 919.35L440.89 919.35L441.29 919.35L441.69 919.35L442.09 919.35L442.49 919.35L442.89 919.35L443.29 919.35L443.69 919.35L444.09 919.35L444.49 919.35L444.89 919.35L445.29 919.35L445.69 919.35L446.09 919.35L446.49 919.35L446.89 919.35L447.29 919.35L447.69 919.35L448.09 919.35L448.49 919.35L448.89 919.35L449.29 919.35L449.69 919.35L450.09 919.35L450.49 919.35L450.89 919.35L451.29 919.35L451.69 919.35L452.09 919.35L452.49 919.35L452.89 919.35L453.29 919.35L453.69 919.35L454.09 919.35L454.49 919.35L454.89 919.35L455.29 919.35L455.69 919.35L456.09 919.35L456.49 919.35L456.89 919.35L457.29 919.35L457.69 919.35L458.09 919.35L458.49 919.35L458.89 919.35L459.29 919.35L459.69 919.35L460.09 919.35L460.49 919.35L460.89 919.35L461.29 919.35L461.69 919.35L462.09 919.35L462.49 919.35L462.89 919.35L463.29 919.35L463.69 919.35L464.09 919.35L464.49 919.35L464.89 919.35L465.29 919.35L465.69 919.35L466.09 919.35L466.49 919.35L466.89 919.35L467.29 919.35L467.69 919.35L468.09 919.35L468.49 919.35L468.89 919.35L469.29 919.35L469.69 919.35L470.09 919.35L470.49 919.35L470.89 919.35L471.29 919.35L471.69 919.35L472.09 919.35L472.49 919.35L472.89 919.35L473.29 919.35L473.69 919.35L474.09 919.35L474.49 919.35L474.89 919.35L475.29 919.35L475.69 919.35L476.09 919.35L476.49 919.35L476.89 919.35L477.29 919.35L477.69 919.35L478.09 919.35L478.49 919.35L478.89 919.35L479.29 919.35L479.69 919.35L480.09 919.35L480.49 919.35L480.89 919.35L481.29 919.35L481.69 919.35L482.09 919.35L482.49 919.35L482.89 919.35L483.29 919.35L483.69 919.35L484.09 919.35L484.49 919.35L484.89 919.35L485.29 919.35L485.69 919.35L486.09 919.35L486.49 919.35L486.89 919.35L487.29 919.35L487.69 919.35L488.09 919.35L488.49 919.35L488.89 919.35L489.29 919.35L489.69 919.35L490.09 919.35L490.49 919.35L490.89 919.35L491.29 919.35L491.69 919.35L492.09 919.35L492.49 919.35L492.89 919.35L493.29 919.35L493.69 919.35L494.09 919.35L494.49 919.35L494.89 919.35L495.29 919.35L495.69 919.35L496.09 919.35L496.49 919.35L496.89 919.35L497.29 919.35L497.69 919.35L498.09 919.35L498.49 919.35L498.89 919.35L499.29 919.35L499.69 919.35L500.09 919.35L500.49 919.35L500.89 919.35L501.29 919.35L501.69 919.35L502.09 919.35L502.49 919.35L502.89 919.35L503.29 919.35L503.69 919.35L504.09 919.35L504.49 919.35L504.89 919.35L505.29 919.35L505.69 919.35L506.09 919.35L506.49 919.35L506.89 919.35L507.29 919.35L507.69 919.35L508.09 919.35L508.49 919.35L508.89 919.35L509.29 919.35L509.69 919.35L510.09 919.35L510.49 919.35L510.89 919.35L511.29 919.35L511.69 919.35L512.09 919.35L512.49 919.35L512.89 919.35L513.29 919.35L513.69 919.35L514.09 919.35L514.49 919.35L514.89 919.35L515.29 919.35L515.69 919.35L516.09 919.35L516.49 919.35L516.89 919.35L517.29 919.35L517.69 919.35L518.09 919.35L518.49 919.35L518.89 919.35L519.29 919.35L519.69 919.35L520.09 919.35L520.49 919.35L520.89 919.35L521.29 919.35L521.69 919.35L522.09 919.35L522.49 919.35L522.89 919.35L523.29 919.35L523.69 919.35L524.09 919.35L524.49 919.35L524.89 919.35L525.29 919.35L525.69 919.35L526.09 919.35L526.49 919.35L526.89 919.35L527.29 919.35L527.69 919.35L528.09 919.35L528.49 919.35L528.89 919.35L529.29 919.35L529.69 919.35L530.09 919.35L530.49 919.35L530.89 919.35L531.29 919.35L531.69 919.35L532.09 919.35L532.49 919.35L532.89 919.35L533.29 919.35L533.69 919.35L534.09 919.35L534.49 919.35L534.89 919.35L535.29 919.35L535.69 919.35L536.09 919.35L536.49 919.35L536.89 919.35L537.29 919.35L537.69 919.35L538.09 919.35L538.49 919.35L538.89 919.35L539.29 919.35L539.69 919.35L540.09 919.35L540.49 919.35L540.89 919.35L541.29 919.35L541.69 919.35L542.09 919.35L542.49 919.35L542.89 919.35L543.29 919.35L543.69 919.35L544.09 919.35L544.49 919.35L544.89 919.35L545.29 919.35L545.69 919.35L546.09 919.35L546.49 919.35L546.89 919.35L547.29 919.35L547.69 919.35L548.09 919.35L548.49 919.35L548.89 919.35L549.29 919.35L549.69 919.35L550.09 919.35L550.49 919.35L550.89 919.35L551.29 919.35L551.69 919.35L552.09 919.35L552.49 919.35L552.89 919.35L553.29 919.35L553.69 919.35L554.09 919.35L554.49 919.35L554.89 919.35L555.29 919.35L555.69 919.35L556.09 919.35L556.49 919.35L556.89 919.35L557.29 919.35L557.69 919.35L558.09 919.35L558.49 919.35L558.89 919.35L559.29 919.35L559.69 919.35L560.09 919.35L560.49 919.35L560.89 919.35L561.29 919.35L561.69 919.35L562.09 919.35L562.49 919.35L562.89 919.35L563.29 919.35L563.69 919.35L564.09 919.35L564.49 919.35L564.89 919.35L565.29 919.35L565.69 919.35L566.09 919.35L566.49 919.35L566.89 919.35L567.29 919.35L567.69 919.35L568.09 919.35L568.49 919.35L568.89 919.35L569.29 919.35L569.69 919.35L570.09 919.35L570.49 919.35L570.89 919.35L571.29 919.35L571.69 919.35L572.09 919.35L572.49 919.35L572.89 919.35L573.29 919.35L573.69 919.35L574.09 919.35L574.49 919.35L574.89 919.35L575.29 919.35L575.69 919.35L576.09 919.35L576.49 919.35L576.89 919.35L577.29 919.35L577.69 919.35L578.09 919.35L578.49 919.35L578.89 919.35L579.29 919.35L579.69 919.35L580.09 919.35L580.49 919.35L580.89 919.35L581.29 919.35L581.69 919.35L582.09 919.35L582.49 919.35L582.89 919.35L583.29 919.35L583.69 919.35L584.09 919.35L584.49 919.35L584.89 919.35L585.29 919.35L585.69 919.35L586.09 919.35L586.49 919.35L586.89 919.35L587.29 919.35L587.69 919.35L588.09 919.35L588.49 919.35L588.89 919.35L589.29 919.35L589.69 919.35L590.09 919.35L590.49 919.35L590.89 919.35L591.29 919.35L591.69 919.35L592.34 919.35L592.34 919.35Z" fill="#ccccff" stroke="#000" stroke-width="2.9" stroke-linejoin="round" stroke-linecap="round"/>
<rect x="358.25" y="695.45" width="244.33" height="233.55" fill="none" stroke="#2b2b2b" stroke-width="1.90"/>
<text transform="translate(480.02,676.90) scale(0.920,1)" font-size="28" fill="#1a1a1a" text-anchor="middle">10</text>
<path d="M633.39 919.35L633.39 904.30L633.79 903.54L634.19 902.75L634.59 901.93L634.99 901.07L635.39 900.19L635.79 899.27L636.19 898.33L636.59 897.34L636.99 896.29L637.39 895.20L637.79 894.08L638.19 892.96L638.59 891.86L638.99 890.80L639.39 889.73L639.79 888.65L640.19 887.56L640.59 886.48L640.99 885.44L641.39 884.46L641.79 883.55L642.19 882.72L642.59 881.94L642.99 881.18L643.39 880.46L643.79 879.79L644.19 879.20L644.59 878.68L644.99 878.27L645.39 877.89L645.79 877.53L646.19 877.20L646.59 876.93L646.99 876.74L647.39 876.65L647.79 876.69L648.19 876.82L648.59 877.03L648.99 877.30L649.39 877.62L649.79 877.96L650.19 878.32L650.59 878.75L650.99 879.29L651.39 879.95L651.79 880.67L652.19 881.45L652.59 882.25L652.99 883.05L653.39 883.83L653.79 884.65L654.19 885.52L654.59 886.42L654.99 887.34L655.39 888.27L655.79 889.20L656.19 890.12L656.59 891.02L656.99 891.88L657.39 892.74L657.79 893.60L658.19 894.47L658.59 895.33L658.99 896.15L659.39 896.93L659.79 897.65L660.19 898.30L660.59 898.89L660.99 899.46L661.39 900.00L661.79 900.51L662.19 900.98L662.59 901.42L662.99 901.81L663.39 902.16L663.79 902.48L664.19 902.78L664.59 903.07L664.99 903.34L665.39 903.58L665.79 903.79L666.19 903.96L666.59 904.08L666.99 904.18L667.39 904.26L667.79 904.33L668.19 904.40L668.59 904.46L668.99 904.51L669.39 904.56L669.79 904.60L670.19 904.65L670.59 904.69L670.99 904.74L671.39 904.78L671.79 904.82L672.19 904.85L672.59 904.89L672.99 904.92L673.39 904.95L673.79 904.99L674.19 905.03L674.59 905.08L674.99 905.13L675.39 905.20L675.79 905.29L676.19 905.41L676.59 905.54L676.99 905.68L677.39 905.84L677.79 906.01L678.19 906.18L678.59 906.37L678.99 906.56L679.39 906.77L679.79 907.02L680.19 907.28L680.59 907.55L680.99 907.84L681.39 908.13L681.79 908.43L682.19 908.72L682.59 909.01L682.99 909.30L683.39 909.59L683.79 909.90L684.19 910.20L684.59 910.51L684.99 910.82L685.39 911.13L685.79 911.43L686.19 911.73L686.59 912.02L686.99 912.30L687.39 912.58L687.79 912.87L688.19 913.16L688.59 913.44L688.99 913.72L689.39 913.99L689.79 914.24L690.19 914.48L690.59 914.70L690.99 914.90L691.39 915.08L691.79 915.26L692.19 915.43L692.59 915.59L692.99 915.75L693.39 915.90L693.79 916.03L694.19 916.15L694.59 916.26L694.99 916.36L695.39 916.44L695.79 916.51L696.19 916.58L696.59 916.65L696.99 916.72L697.39 916.78L697.79 916.83L698.19 916.88L698.59 916.91L698.99 916.94L699.39 916.95L699.79 916.95L700.19 916.94L700.59 916.93L700.99 916.90L701.39 916.87L701.79 916.84L702.19 916.80L702.59 916.76L702.99 916.72L703.39 916.67L703.79 916.63L704.19 916.59L704.59 916.55L704.99 916.52L705.39 916.48L705.79 916.44L706.19 916.40L706.59 916.36L706.99 916.32L707.39 916.27L707.79 916.23L708.19 916.18L708.59 916.14L708.99 916.11L709.39 916.08L709.79 916.05L710.19 916.02L710.59 916.01L710.99 916.00L711.39 916.00L711.79 916.00L712.19 916.01L712.59 916.03L712.99 916.05L713.39 916.08L713.79 916.11L714.19 916.14L714.59 916.18L714.99 916.21L715.39 916.25L715.79 916.28L716.19 916.32L716.59 916.35L716.99 916.38L717.39 916.41L717.79 916.43L718.19 916.46L718.59 916.48L718.99 916.51L719.39 916.53L719.79 916.56L720.19 916.58L720.59 916.60L720.99 916.62L721.39 916.63L721.79 916.63L722.19 916.63L722.59 916.63L722.99 916.61L723.39 916.59L723.79 916.57L724.19 916.55L724.59 916.52L724.99 916.50L725.39 916.47L725.79 916.44L726.19 916.42L726.59 916.39L726.99 916.36L727.39 916.32L727.79 916.28L728.19 916.23L728.59 916.19L728.99 916.15L729.39 916.11L729.79 916.07L730.19 916.04L730.59 916.02L730.99 916.00L731.39 916.00L731.79 916.00L732.19 916.02L732.59 916.04L732.99 916.08L733.39 916.13L733.79 916.18L734.19 916.23L734.59 916.30L734.99 916.36L735.39 916.42L735.79 916.49L736.19 916.55L736.59 916.61L736.99 916.66L737.39 916.72L737.79 916.78L738.19 916.84L738.59 916.90L738.99 916.97L739.39 917.03L739.79 917.10L740.19 917.17L740.59 917.23L740.99 917.30L741.39 917.37L741.79 917.43L742.19 917.50L742.59 917.57L742.99 917.64L743.39 917.71L743.79 917.78L744.19 917.85L744.59 917.92L744.99 918.00L745.39 918.07L745.79 918.14L746.19 918.21L746.59 918.27L746.99 918.34L747.39 918.40L747.79 918.46L748.19 918.51L748.59 918.56L748.99 918.61L749.39 918.66L749.79 918.71L750.19 918.77L750.59 918.82L750.99 918.87L751.39 918.92L751.79 918.97L752.19 919.02L752.59 919.06L752.99 919.11L753.39 919.15L753.79 919.19L754.19 919.22L754.59 919.25L754.99 919.28L755.39 919.31L755.79 919.32L756.19 919.34L756.59 919.35L756.99 919.35L757.39 919.35L757.79 919.35L758.19 919.35L758.59 919.35L758.99 919.35L759.39 919.35L759.79 919.35L760.19 919.35L760.59 919.35L760.99 919.35L761.39 919.35L761.79 919.35L762.19 919.35L762.59 919.35L762.99 919.35L763.39 919.35L763.79 919.35L764.19 919.35L764.59 919.35L764.99 919.35L765.39 919.35L765.79 919.35L766.19 919.35L766.59 919.35L766.99 919.35L767.39 919.35L767.79 919.35L768.19 919.35L768.59 919.35L768.99 919.35L769.39 919.35L769.79 919.35L770.19 919.35L770.59 919.35L770.99 919.35L771.39 919.35L771.79 919.35L772.19 919.35L772.59 919.35L772.99 919.35L773.39 919.35L773.79 919.35L774.19 919.35L774.59 919.35L774.99 919.35L775.39 919.35L775.79 919.35L776.19 919.35L776.59 919.35L776.99 919.35L777.39 919.35L777.79 919.35L778.19 919.35L778.59 919.35L778.99 919.35L779.39 919.35L779.79 919.35L780.19 919.35L780.59 919.35L780.99 919.35L781.39 919.35L781.79 919.35L782.19 919.35L782.59 919.35L782.99 919.35L783.39 919.35L783.79 919.35L784.19 919.35L784.59 919.35L784.99 919.35L785.39 919.35L785.79 919.35L786.19 919.35L786.59 919.35L786.99 919.35L787.39 919.35L787.79 919.35L788.19 919.35L788.59 919.35L788.99 919.35L789.39 919.35L789.79 919.35L790.19 919.35L790.59 919.35L790.99 919.35L791.39 919.35L791.79 919.35L792.19 919.35L792.59 919.35L792.99 919.35L793.39 919.35L793.79 919.35L794.19 919.35L794.59 919.35L794.99 919.35L795.39 919.35L795.79 919.35L796.19 919.35L796.59 919.35L796.99 919.35L797.39 919.35L797.79 919.35L798.19 919.35L798.59 919.35L798.99 919.35L799.39 919.35L799.79 919.35L800.19 919.35L800.59 919.35L800.99 919.35L801.39 919.35L801.79 919.35L802.19 919.35L802.59 919.35L802.99 919.35L803.39 919.35L803.79 919.35L804.19 919.35L804.59 919.35L804.99 919.35L805.39 919.35L805.79 919.35L806.19 919.35L806.59 919.35L806.99 919.35L807.39 919.35L807.79 919.35L808.19 919.35L808.59 919.35L808.99 919.35L809.39 919.35L809.79 919.35L810.19 919.35L810.59 919.35L810.99 919.35L811.39 919.35L811.79 919.35L812.19 919.35L812.59 919.35L812.99 919.35L813.39 919.35L813.79 919.35L814.19 919.35L814.59 919.35L814.99 919.35L815.39 919.35L815.79 919.35L816.19 919.35L816.59 919.35L816.99 919.35L817.39 919.35L817.79 919.35L818.19 919.35L818.59 919.35L818.99 919.35L819.39 919.35L819.79 919.35L820.19 919.35L820.59 919.35L820.99 919.35L821.39 919.35L821.79 919.35L822.19 919.35L822.59 919.35L822.99 919.35L823.39 919.35L823.79 919.35L824.19 919.35L824.59 919.35L824.99 919.35L825.39 919.35L825.79 919.35L826.19 919.35L826.59 919.35L826.99 919.35L827.39 919.35L827.79 919.35L828.19 919.35L828.59 919.35L828.99 919.35L829.39 919.35L829.79 919.35L830.19 919.35L830.59 919.35L830.99 919.35L831.39 919.35L831.79 919.35L832.19 919.35L832.59 919.35L832.99 919.35L833.39 919.35L833.79 919.35L834.19 919.35L834.59 919.35L834.99 919.35L835.39 919.35L835.79 919.35L836.19 919.35L836.59 919.35L836.99 919.35L837.39 919.35L837.79 919.35L838.19 919.35L838.59 919.35L838.99 919.35L839.39 919.35L839.79 919.35L840.19 919.35L840.59 919.35L840.99 919.35L841.39 919.35L841.79 919.35L842.19 919.35L842.59 919.35L842.99 919.35L843.39 919.35L843.79 919.35L844.19 919.35L844.59 919.35L844.99 919.35L845.39 919.35L845.79 919.35L846.19 919.35L846.59 919.35L846.99 919.35L847.39 919.35L847.79 919.35L848.19 919.35L848.59 919.35L848.99 919.35L849.39 919.35L849.79 919.35L850.19 919.35L850.59 919.35L850.99 919.35L851.39 919.35L851.79 919.35L852.19 919.35L852.59 919.35L852.99 919.35L853.39 919.35L853.79 919.35L854.19 919.35L854.59 919.35L854.99 919.35L855.39 919.35L855.79 919.35L856.19 919.35L856.59 919.35L857.24 919.35L857.24 919.35Z" fill="#ccccff" stroke="#000" stroke-width="2.9" stroke-linejoin="round" stroke-linecap="round"/>
<rect x="623.15" y="695.45" width="244.33" height="233.55" fill="none" stroke="#2b2b2b" stroke-width="1.90"/>
<text transform="translate(744.92,676.90) scale(0.920,1)" font-size="28" fill="#1a1a1a" text-anchor="middle">11</text>
<rect x="888.05" y="695.45" width="244.33" height="233.55" fill="none" stroke="#2b2b2b" stroke-width="1.90"/>
<text transform="translate(1009.82,676.90) scale(0.920,1)" font-size="28" fill="#1a1a1a" text-anchor="middle">15</text>
<line x1="924.72" y1="929.65" x2="924.72" y2="939.50" stroke="#2b2b2b" stroke-width="3.70"/>
<text transform="translate(924.72,967.25) scale(0.920,1)" font-size="28" fill="#4d4d4d" text-anchor="middle">1</text>
<line x1="970.69" y1="929.65" x2="970.69" y2="939.50" stroke="#2b2b2b" stroke-width="3.70"/>
<text transform="translate(970.69,967.25) scale(0.920,1)" font-size="28" fill="#4d4d4d" text-anchor="middle">2</text>
<line x1="1016.66" y1="929.65" x2="1016.66" y2="939.50" stroke="#2b2b2b" stroke-width="3.70"/>
<text transform="translate(1016.66,967.25) scale(0.920,1)" font-size="28" fill="#4d4d4d" text-anchor="middle">3</text>
<line x1="1062.63" y1="929.65" x2="1062.63" y2="939.50" stroke="#2b2b2b" stroke-width="3.70"/>
<text transform="translate(1062.63,967.25) scale(0.920,1)" font-size="28" fill="#4d4d4d" text-anchor="middle">4</text>
<line x1="1108.60" y1="929.65" x2="1108.60" y2="939.50" stroke="#2b2b2b" stroke-width="3.70"/>
<text transform="translate(1108.60,967.25) scale(0.920,1)" font-size="28" fill="#4d4d4d" text-anchor="middle">5</text>
<path d="M103.59 1229.35L103.59 1229.35L103.99 1229.30L104.39 1229.19L104.79 1229.02L105.19 1228.82L105.59 1228.60L105.99 1228.31L106.39 1227.92L106.79 1227.45L107.19 1226.86L107.59 1226.05L107.99 1225.01L108.39 1223.78L108.79 1222.29L109.19 1220.40L109.59 1218.20L109.99 1215.75L110.39 1212.80L110.79 1209.43L111.19 1205.86L111.59 1201.88L111.99 1197.73L112.39 1193.81L112.79 1189.87L113.19 1186.25L113.59 1183.45L113.99 1181.17L114.39 1179.30L114.79 1177.89L115.19 1176.83L115.59 1175.94L115.99 1175.06L116.39 1174.21L116.79 1173.40L117.19 1172.53L117.59 1171.46L117.99 1170.17L118.39 1168.75L118.79 1167.26L119.19 1165.67L119.59 1163.99L119.99 1162.25L120.39 1160.48L120.79 1158.63L121.19 1156.76L121.59 1154.95L121.99 1153.13L122.39 1151.33L122.79 1149.66L123.19 1148.17L123.59 1146.79L123.99 1145.60L124.39 1144.64L124.79 1143.83L125.19 1143.31L125.59 1142.98L125.99 1142.98L126.39 1143.50L126.79 1144.27L127.19 1145.54L127.59 1147.39L127.99 1150.44L128.39 1154.12L128.79 1157.89L129.19 1161.97L129.59 1166.10L129.99 1170.33L130.39 1174.58L130.79 1178.67L131.19 1182.58L131.59 1186.39L131.99 1190.09L132.39 1193.72L132.79 1197.27L133.19 1200.71L133.59 1204.01L133.99 1207.25L134.39 1210.35L134.79 1213.20L135.19 1215.76L135.59 1218.16L135.99 1220.32L136.39 1222.16L136.79 1223.83L137.19 1225.26L137.59 1226.32L137.99 1227.03L138.39 1227.55L138.79 1227.87L139.19 1228.08L139.59 1228.15L139.99 1227.93L140.39 1227.49L140.79 1226.96L141.19 1226.34L141.59 1225.63L141.99 1224.86L142.39 1224.03L142.79 1223.18L143.19 1222.34L143.59 1221.54L143.99 1220.83L144.39 1220.24L144.79 1219.81L145.19 1219.56L145.59 1219.51L145.99 1219.65L146.39 1219.99L146.79 1220.49L147.19 1221.14L147.59 1221.89L147.99 1222.72L148.39 1223.57L148.79 1224.41L149.19 1225.22L149.59 1225.96L149.99 1226.63L150.39 1227.21L150.79 1227.70L151.19 1228.10L151.59 1228.42L151.99 1228.68L152.39 1228.87L152.79 1229.02L153.19 1229.12L153.59 1229.20L153.99 1229.25L154.39 1229.29L154.79 1229.31L155.19 1229.33L155.59 1229.34L155.99 1229.34L156.39 1229.34L156.79 1229.35L157.19 1229.35L157.59 1229.35L157.99 1229.35L158.39 1229.35L158.79 1229.35L159.19 1229.35L159.59 1229.35L159.99 1229.35L160.39 1229.35L160.79 1229.35L161.19 1229.35L161.59 1229.35L161.99 1229.35L162.39 1229.35L162.79 1229.35L163.19 1229.35L163.59 1229.35L163.99 1229.35L164.39 1229.35L164.79 1229.35L165.19 1229.35L165.59 1229.35L165.99 1229.35L166.39 1229.35L166.79 1229.35L167.19 1229.35L167.59 1229.35L167.99 1229.35L168.39 1229.35L168.79 1229.35L169.19 1229.35L169.59 1229.35L169.99 1229.35L170.39 1229.35L170.79 1229.35L171.19 1229.35L171.59 1229.35L171.99 1229.35L172.39 1229.35L172.79 1229.35L173.19 1229.35L173.59 1229.35L173.99 1229.35L174.39 1229.35L174.79 1229.35L175.19 1229.35L175.59 1229.35L175.99 1229.35L176.39 1229.35L176.79 1229.35L177.19 1229.35L177.59 1229.35L177.99 1229.35L178.39 1229.35L178.79 1229.35L179.19 1229.35L179.59 1229.35L179.99 1229.35L180.39 1229.35L180.79 1229.35L181.19 1229.35L181.59 1229.35L181.99 1229.35L182.39 1229.35L182.79 1229.35L183.19 1229.35L183.59 1229.35L183.99 1229.35L184.39 1229.35L184.79 1229.35L185.19 1229.35L185.59 1229.35L185.99 1229.35L186.39 1229.35L186.79 1229.35L187.19 1229.35L187.59 1229.35L187.99 1229.35L188.39 1229.35L188.79 1229.35L189.19 1229.35L189.59 1229.35L189.99 1229.35L190.39 1229.35L190.79 1229.35L191.19 1229.35L191.59 1229.35L191.99 1229.35L192.39 1229.35L192.79 1229.35L193.19 1229.35L193.59 1229.35L193.99 1229.35L194.39 1229.35L194.79 1229.35L195.19 1229.35L195.59 1229.35L195.99 1229.35L196.39 1229.35L196.79 1229.35L197.19 1229.35L197.59 1229.35L197.99 1229.35L198.39 1229.35L198.79 1229.35L199.19 1229.35L199.59 1229.35L199.99 1229.35L200.39 1229.35L200.79 1229.35L201.19 1229.35L201.59 1229.35L201.99 1229.35L202.39 1229.35L202.79 1229.35L203.19 1229.35L203.59 1229.35L203.99 1229.35L204.39 1229.35L204.79 1229.35L205.19 1229.35L205.59 1229.35L205.99 1229.35L206.39 1229.35L206.79 1229.35L207.19 1229.35L207.59 1229.35L207.99 1229.35L208.39 1229.35L208.79 1229.35L209.19 1229.35L209.59 1229.35L209.99 1229.35L210.39 1229.35L210.79 1229.35L211.19 1229.35L211.59 1229.35L211.99 1229.35L212.39 1229.35L212.79 1229.35L213.19 1229.35L213.59 1229.35L213.99 1229.35L214.39 1229.35L214.79 1229.35L215.19 1229.35L215.59 1229.35L215.99 1229.35L216.39 1229.35L216.79 1229.35L217.19 1229.35L217.59 1229.35L217.99 1229.35L218.39 1229.35L218.79 1229.35L219.19 1229.35L219.59 1229.35L219.99 1229.35L220.39 1229.35L220.79 1229.35L221.19 1229.35L221.59 1229.35L221.99 1229.35L222.39 1229.35L222.79 1229.35L223.19 1229.35L223.59 1229.35L223.99 1229.35L224.39 1229.35L224.79 1229.35L225.19 1229.35L225.59 1229.35L225.99 1229.35L226.39 1229.35L226.79 1229.35L227.19 1229.35L227.59 1229.35L227.99 1229.35L228.39 1229.35L228.79 1229.35L229.19 1229.35L229.59 1229.35L229.99 1229.35L230.39 1229.35L230.79 1229.35L231.19 1229.35L231.59 1229.35L231.99 1229.35L232.39 1229.35L232.79 1229.35L233.19 1229.35L233.59 1229.35L233.99 1229.35L234.39 1229.35L234.79 1229.35L235.19 1229.35L235.59 1229.35L235.99 1229.35L236.39 1229.35L236.79 1229.35L237.19 1229.35L237.59 1229.35L237.99 1229.35L238.39 1229.35L238.79 1229.35L239.19 1229.35L239.59 1229.35L239.99 1229.35L240.39 1229.35L240.79 1229.35L241.19 1229.35L241.59 1229.35L241.99 1229.35L242.39 1229.35L242.79 1229.35L243.19 1229.35L243.59 1229.35L243.99 1229.35L244.39 1229.35L244.79 1229.35L245.19 1229.35L245.59 1229.35L245.99 1229.35L246.39 1229.35L246.79 1229.35L247.19 1229.35L247.59 1229.35L247.99 1229.35L248.39 1229.35L248.79 1229.35L249.19 1229.35L249.59 1229.35L249.99 1229.35L250.39 1229.35L250.79 1229.35L251.19 1229.35L251.59 1229.35L251.99 1229.35L252.39 1229.35L252.79 1229.35L253.19 1229.35L253.59 1229.35L253.99 1229.35L254.39 1229.35L254.79 1229.35L255.19 1229.35L255.59 1229.35L255.99 1229.35L256.39 1229.35L256.79 1229.35L257.19 1229.35L257.59 1229.35L257.99 1229.35L258.39 1229.35L258.79 1229.35L259.19 1229.35L259.59 1229.35L259.99 1229.35L260.39 1229.35L260.79 1229.35L261.19 1229.35L261.59 1229.35L261.99 1229.35L262.39 1229.35L262.79 1229.35L263.19 1229.35L263.59 1229.35L263.99 1229.35L264.39 1229.35L264.79 1229.35L265.19 1229.35L265.59 1229.35L265.99 1229.35L266.39 1229.35L266.79 1229.35L267.19 1229.35L267.59 1229.35L267.99 1229.35L268.39 1229.35L268.79 1229.35L269.19 1229.35L269.59 1229.35L269.99 1229.35L270.39 1229.35L270.79 1229.35L271.19 1229.35L271.59 1229.35L271.99 1229.35L272.39 1229.35L272.79 1229.35L273.19 1229.35L273.59 1229.35L273.99 1229.35L274.39 1229.35L274.79 1229.35L275.19 1229.35L275.59 1229.35L275.99 1229.35L276.39 1229.35L276.79 1229.35L277.19 1229.35L277.59 1229.35L277.99 1229.35L278.39 1229.35L278.79 1229.35L279.19 1229.35L279.59 1229.35L279.99 1229.35L280.39 1229.35L280.79 1229.35L281.19 1229.35L281.59 1229.35L281.99 1229.35L282.39 1229.35L282.79 1229.35L283.19 1229.35L283.59 1229.35L283.99 1229.35L284.39 1229.35L284.79 1229.35L285.19 1229.35L285.59 1229.35L285.99 1229.35L286.39 1229.35L286.79 1229.35L287.19 1229.35L287.59 1229.35L287.99 1229.35L288.39 1229.35L288.79 1229.35L289.19 1229.35L289.59 1229.35L289.99 1229.35L290.39 1229.35L290.79 1229.35L291.19 1229.35L291.59 1229.35L291.99 1229.35L292.39 1229.35L292.79 1229.35L293.19 1229.35L293.59 1229.35L293.99 1229.35L294.39 1229.35L294.79 1229.35L295.19 1229.35L295.59 1229.35L295.99 1229.35L296.39 1229.35L296.79 1229.35L297.19 1229.35L297.59 1229.35L297.99 1229.35L298.39 1229.35L298.79 1229.35L299.19 1229.35L299.59 1229.35L299.99 1229.35L300.39 1229.35L300.79 1229.35L301.19 1229.35L301.59 1229.35L301.99 1229.35L302.39 1229.35L302.79 1229.35L303.19 1229.35L303.59 1229.35L303.99 1229.35L304.39 1229.35L304.79 1229.35L305.19 1229.35L305.59 1229.35L305.99 1229.35L306.39 1229.35L306.79 1229.35L307.19 1229.35L307.59 1229.35L307.99 1229.35L308.39 1229.35L308.79 1229.35L309.19 1229.35L309.59 1229.35L309.99 1229.35L310.39 1229.35L310.79 1229.35L311.19 1229.35L311.59 1229.35L311.99 1229.35L312.39 1229.35L312.79 1229.35L313.19 1229.35L313.59 1229.35L313.99 1229.35L314.39 1229.35L314.79 1229.35L315.19 1229.35L315.59 1229.35L315.99 1229.35L316.39 1229.35L316.79 1229.35L317.19 1229.35L317.59 1229.35L317.99 1229.35L318.39 1229.35L318.79 1229.35L319.19 1229.35L319.59 1229.35L319.99 1229.35L320.39 1229.35L320.79 1229.35L321.19 1229.35L321.59 1229.35L321.99 1229.35L322.39 1229.35L322.79 1229.35L323.19 1229.35L323.59 1229.35L323.99 1229.35L324.39 1229.35L324.79 1229.35L325.19 1229.35L325.59 1229.35L325.99 1229.35L326.39 1229.35L326.79 1229.35L327.44 1229.35L327.44 1229.35Z" fill="#ccccff" stroke="#000" stroke-width="2.9" stroke-linejoin="round" stroke-linecap="round"/>
<rect x="93.35" y="1005.45" width="244.33" height="233.55" fill="none" stroke="#2b2b2b" stroke-width="1.90"/>
<text transform="translate(215.11,986.90) scale(0.920,1)" font-size="28" fill="#1a1a1a" text-anchor="middle">16</text>
<line x1="82.85" y1="1229.35" x2="92.70" y2="1229.35" stroke="#2b2b2b" stroke-width="3.70"/>
<text transform="translate(74.80,1239.75) scale(0.920,1)" font-size="28" fill="#4d4d4d" text-anchor="end">0</text>
<line x1="82.85" y1="1164.51" x2="92.70" y2="1164.51" stroke="#2b2b2b" stroke-width="3.70"/>
<text transform="translate(74.80,1174.91) scale(0.920,1)" font-size="28" fill="#4d4d4d" text-anchor="end">2</text>
<line x1="82.85" y1="1099.67" x2="92.70" y2="1099.67" stroke="#2b2b2b" stroke-width="3.70"/>
<text transform="translate(74.80,1110.07) scale(0.920,1)" font-size="28" fill="#4d4d4d" text-anchor="end">4</text>
<line x1="82.85" y1="1034.83" x2="92.70" y2="1034.83" stroke="#2b2b2b" stroke-width="3.70"/>
<text transform="translate(74.80,1045.23) scale(0.920,1)" font-size="28" fill="#4d4d4d" text-anchor="end">6</text>
<line x1="130.02" y1="1239.65" x2="130.02" y2="1249.50" stroke="#2b2b2b" stroke-width="3.70"/>
<text transform="translate(130.02,1277.25) scale(0.920,1)" font-size="28" fill="#4d4d4d" text-anchor="middle">1</text>
<line x1="175.99" y1="1239.65" x2="175.99" y2="1249.50" stroke="#2b2b2b" stroke-width="3.70"/>
<text transform="translate(175.99,1277.25) scale(0.920,1)" font-size="28" fill="#4d4d4d" text-anchor="middle">2</text>
<line x1="221.96" y1="1239.65" x2="221.96" y2="1249.50" stroke="#2b2b2b" stroke-width="3.70"/>
<text transform="translate(221.96,1277.25) scale(0.920,1)" font-size="28" fill="#4d4d4d" text-anchor="middle">3</text>
<line x1="267.93" y1="1239.65" x2="267.93" y2="1249.50" stroke="#2b2b2b" stroke-width="3.70"/>
<text transform="translate(267.93,1277.25) scale(0.920,1)" font-size="28" fill="#4d4d4d" text-anchor="middle">4</text>
<line x1="313.90" y1="1239.65" x2="313.90" y2="1249.50" stroke="#2b2b2b" stroke-width="3.70"/>
<text transform="translate(313.90,1277.25) scale(0.920,1)" font-size="28" fill="#4d4d4d" text-anchor="middle">5</text>
<path d="M368.49 1229.35L368.49 1222.95L368.89 1220.87L369.29 1218.62L369.69 1216.19L370.09 1213.57L370.49 1210.76L370.89 1207.78L371.29 1204.62L371.69 1201.20L372.09 1197.61L372.49 1193.98L372.89 1190.36L373.29 1186.68L373.69 1182.96L374.09 1179.21L374.49 1175.35L374.89 1171.44L375.29 1167.62L375.69 1164.00L376.09 1160.49L376.49 1157.15L376.89 1154.05L377.29 1151.04L377.69 1148.32L378.09 1146.19L378.49 1144.40L378.89 1143.03L379.29 1142.24L379.69 1141.64L380.09 1141.37L380.49 1141.57L380.89 1142.13L381.29 1142.90L381.69 1144.38L382.09 1146.41L382.49 1148.62L382.89 1151.27L383.29 1154.20L383.69 1157.27L384.09 1160.61L384.49 1164.10L384.89 1167.63L385.29 1171.26L385.69 1174.96L386.09 1178.67L386.49 1182.35L386.89 1186.05L387.29 1189.73L387.69 1193.32L388.09 1196.94L388.49 1200.47L388.89 1203.70L389.29 1206.65L389.69 1209.39L390.09 1211.57L390.49 1213.28L390.89 1214.71L391.29 1215.57L391.69 1215.99L392.09 1216.31L392.49 1216.50L392.89 1216.48L393.29 1216.09L393.69 1215.45L394.09 1214.77L394.49 1213.96L394.89 1213.02L395.29 1212.11L395.69 1211.29L396.09 1210.47L396.49 1209.81L396.89 1209.41L397.29 1209.07L397.69 1208.85L398.09 1208.81L398.49 1209.03L398.89 1209.43L399.29 1209.90L399.69 1210.57L400.09 1211.51L400.49 1212.57L400.89 1213.64L401.29 1214.78L401.69 1216.02L402.09 1217.27L402.49 1218.48L402.89 1219.62L403.29 1220.76L403.69 1221.86L404.09 1222.88L404.49 1223.78L404.89 1224.62L405.29 1225.41L405.69 1226.10L406.09 1226.67L406.49 1227.11L406.89 1227.50L407.29 1227.84L407.69 1228.13L408.09 1228.37L408.49 1228.57L408.89 1228.76L409.29 1228.95L409.69 1229.10L410.09 1229.23L410.49 1229.32L410.89 1229.35L411.29 1229.35L411.69 1229.35L412.09 1229.35L412.49 1229.35L412.89 1229.35L413.29 1229.35L413.69 1229.35L414.09 1229.35L414.49 1229.35L414.89 1229.35L415.29 1229.35L415.69 1229.35L416.09 1229.35L416.49 1229.35L416.89 1229.35L417.29 1229.35L417.69 1229.35L418.09 1229.35L418.49 1229.35L418.89 1229.35L419.29 1229.35L419.69 1229.35L420.09 1229.35L420.49 1229.35L420.89 1229.35L421.29 1229.35L421.69 1229.35L422.09 1229.35L422.49 1229.35L422.89 1229.35L423.29 1229.35L423.69 1229.35L424.09 1229.35L424.49 1229.35L424.89 1229.35L425.29 1229.35L425.69 1229.35L426.09 1229.35L426.49 1229.35L426.89 1229.35L427.29 1229.35L427.69 1229.35L428.09 1229.35L428.49 1229.35L428.89 1229.35L429.29 1229.35L429.69 1229.35L430.09 1229.35L430.49 1229.34L430.89 1229.34L431.29 1229.33L431.69 1229.33L432.09 1229.32L432.49 1229.30L432.89 1229.28L433.29 1229.25L433.69 1229.21L434.09 1229.16L434.49 1229.10L434.89 1229.01L435.29 1228.90L435.69 1228.76L436.09 1228.59L436.49 1228.38L436.89 1228.13L437.29 1227.84L437.69 1227.50L438.09 1227.11L438.49 1226.68L438.89 1226.20L439.29 1225.69L439.69 1225.15L440.09 1224.59L440.49 1224.03L440.89 1223.48L441.29 1222.96L441.69 1222.48L442.09 1222.06L442.49 1221.72L442.89 1221.46L443.29 1221.31L443.69 1221.25L444.09 1221.30L444.49 1221.45L444.89 1221.70L445.29 1222.04L445.69 1222.46L446.09 1222.93L446.49 1223.45L446.89 1224.00L447.29 1224.56L447.69 1225.12L448.09 1225.66L448.49 1226.17L448.89 1226.65L449.29 1227.09L449.69 1227.48L450.09 1227.82L450.49 1228.12L450.89 1228.37L451.29 1228.58L451.69 1228.75L452.09 1228.89L452.49 1229.00L452.89 1229.09L453.29 1229.16L453.69 1229.21L454.09 1229.25L454.49 1229.28L454.89 1229.30L455.29 1229.32L455.69 1229.33L456.09 1229.33L456.49 1229.34L456.89 1229.34L457.29 1229.35L457.69 1229.35L458.09 1229.35L458.49 1229.35L458.89 1229.35L459.29 1229.35L459.69 1229.35L460.09 1229.35L460.49 1229.35L460.89 1229.35L461.29 1229.35L461.69 1229.35L462.09 1229.35L462.49 1229.35L462.89 1229.35L463.29 1229.35L463.69 1229.35L464.09 1229.35L464.49 1229.35L464.89 1229.35L465.29 1229.35L465.69 1229.35L466.09 1229.35L466.49 1229.35L466.89 1229.35L467.29 1229.35L467.69 1229.35L468.09 1229.35L468.49 1229.35L468.89 1229.35L469.29 1229.35L469.69 1229.35L470.09 1229.35L470.49 1229.35L470.89 1229.35L471.29 1229.35L471.69 1229.35L472.09 1229.35L472.49 1229.35L472.89 1229.35L473.29 1229.35L473.69 1229.35L474.09 1229.35L474.49 1229.35L474.89 1229.35L475.29 1229.35L475.69 1229.35L476.09 1229.35L476.49 1229.35L476.89 1229.35L477.29 1229.35L477.69 1229.35L478.09 1229.35L478.49 1229.35L478.89 1229.35L479.29 1229.35L479.69 1229.35L480.09 1229.35L480.49 1229.35L480.89 1229.35L481.29 1229.35L481.69 1229.35L482.09 1229.35L482.49 1229.35L482.89 1229.35L483.29 1229.35L483.69 1229.35L484.09 1229.35L484.49 1229.35L484.89 1229.35L485.29 1229.35L485.69 1229.35L486.09 1229.35L486.49 1229.35L486.89 1229.35L487.29 1229.35L487.69 1229.35L488.09 1229.35L488.49 1229.35L488.89 1229.35L489.29 1229.35L489.69 1229.35L490.09 1229.35L490.49 1229.35L490.89 1229.35L491.29 1229.35L491.69 1229.35L492.09 1229.35L492.49 1229.35L492.89 1229.35L493.29 1229.35L493.69 1229.35L494.09 1229.35L494.49 1229.35L494.89 1229.35L495.29 1229.35L495.69 1229.35L496.09 1229.35L496.49 1229.35L496.89 1229.35L497.29 1229.35L497.69 1229.35L498.09 1229.35L498.49 1229.35L498.89 1229.35L499.29 1229.35L499.69 1229.35L500.09 1229.35L500.49 1229.35L500.89 1229.35L501.29 1229.35L501.69 1229.35L502.09 1229.35L502.49 1229.35L502.89 1229.35L503.29 1229.35L503.69 1229.35L504.09 1229.35L504.49 1229.35L504.89 1229.35L505.29 1229.35L505.69 1229.35L506.09 1229.35L506.49 1229.35L506.89 1229.35L507.29 1229.35L507.69 1229.35L508.09 1229.35L508.49 1229.35L508.89 1229.35L509.29 1229.35L509.69 1229.35L510.09 1229.35L510.49 1229.35L510.89 1229.35L511.29 1229.35L511.69 1229.35L512.09 1229.35L512.49 1229.35L512.89 1229.35L513.29 1229.35L513.69 1229.35L514.09 1229.35L514.49 1229.35L514.89 1229.35L515.29 1229.35L515.69 1229.35L516.09 1229.35L516.49 1229.35L516.89 1229.35L517.29 1229.35L517.69 1229.35L518.09 1229.35L518.49 1229.35L518.89 1229.35L519.29 1229.35L519.69 1229.35L520.09 1229.35L520.49 1229.35L520.89 1229.35L521.29 1229.35L521.69 1229.35L522.09 1229.35L522.49 1229.35L522.89 1229.35L523.29 1229.35L523.69 1229.35L524.09 1229.35L524.49 1229.35L524.89 1229.35L525.29 1229.35L525.69 1229.35L526.09 1229.35L526.49 1229.35L526.89 1229.35L527.29 1229.35L527.69 1229.35L528.09 1229.35L528.49 1229.35L528.89 1229.35L529.29 1229.35L529.69 1229.35L530.09 1229.35L530.49 1229.35L530.89 1229.35L531.29 1229.35L531.69 1229.35L532.09 1229.35L532.49 1229.35L532.89 1229.35L533.29 1229.35L533.69 1229.35L534.09 1229.35L534.49 1229.35L534.89 1229.35L535.29 1229.35L535.69 1229.35L536.09 1229.35L536.49 1229.35L536.89 1229.35L537.29 1229.35L537.69 1229.35L538.09 1229.35L538.49 1229.35L538.89 1229.35L539.29 1229.35L539.69 1229.35L540.09 1229.35L540.49 1229.35L540.89 1229.35L541.29 1229.35L541.69 1229.35L542.09 1229.35L542.49 1229.35L542.89 1229.35L543.29 1229.35L543.69 1229.35L544.09 1229.35L544.49 1229.35L544.89 1229.35L545.29 1229.35L545.69 1229.35L546.09 1229.35L546.49 1229.35L546.89 1229.35L547.29 1229.35L547.69 1229.35L548.09 1229.35L548.49 1229.35L548.89 1229.35L549.29 1229.35L549.69 1229.35L550.09 1229.35L550.49 1229.35L550.89 1229.35L551.29 1229.35L551.69 1229.35L552.09 1229.35L552.49 1229.35L552.89 1229.35L553.29 1229.35L553.69 1229.35L554.09 1229.35L554.49 1229.35L554.89 1229.35L555.29 1229.35L555.69 1229.35L556.09 1229.35L556.49 1229.35L556.89 1229.35L557.29 1229.35L557.69 1229.35L558.09 1229.35L558.49 1229.35L558.89 1229.35L559.29 1229.35L559.69 1229.35L560.09 1229.35L560.49 1229.35L560.89 1229.35L561.29 1229.35L561.69 1229.35L562.09 1229.35L562.49 1229.35L562.89 1229.35L563.29 1229.35L563.69 1229.35L564.09 1229.35L564.49 1229.35L564.89 1229.35L565.29 1229.35L565.69 1229.35L566.09 1229.35L566.49 1229.35L566.89 1229.35L567.29 1229.35L567.69 1229.35L568.09 1229.35L568.49 1229.35L568.89 1229.35L569.29 1229.35L569.69 1229.35L570.09 1229.35L570.49 1229.35L570.89 1229.35L571.29 1229.35L571.69 1229.35L572.09 1229.35L572.49 1229.35L572.89 1229.35L573.29 1229.35L573.69 1229.35L574.09 1229.35L574.49 1229.35L574.89 1229.35L575.29 1229.35L575.69 1229.35L576.09 1229.35L576.49 1229.35L576.89 1229.35L577.29 1229.35L577.69 1229.35L578.09 1229.35L578.49 1229.35L578.89 1229.35L579.29 1229.35L579.69 1229.35L580.09 1229.35L580.49 1229.35L580.89 1229.35L581.29 1229.35L581.69 1229.35L582.09 1229.35L582.49 1229.35L582.89 1229.35L583.29 1229.35L583.69 1229.35L584.09 1229.35L584.49 1229.35L584.89 1229.35L585.29 1229.35L585.69 1229.35L586.09 1229.35L586.49 1229.35L586.89 1229.35L587.29 1229.35L587.69 1229.35L588.09 1229.35L588.49 1229.35L588.89 1229.35L589.29 1229.35L589.69 1229.35L590.09 1229.35L590.49 1229.35L590.89 1229.35L591.29 1229.35L591.69 1229.35L592.34 1229.35L592.34 1229.35Z" fill="#ccccff" stroke="#000" stroke-width="2.9" stroke-linejoin="round" stroke-linecap="round"/>
<rect x="358.25" y="1005.45" width="244.33" height="233.55" fill="none" stroke="#2b2b2b" stroke-width="1.90"/>
<text transform="translate(480.02,986.90) scale(0.920,1)" font-size="28" fill="#1a1a1a" text-anchor="middle">17</text>
<line x1="394.92" y1="1239.65" x2="394.92" y2="1249.50" stroke="#2b2b2b" stroke-width="3.70"/>
<text transform="translate(394.92,1277.25) scale(0.920,1)" font-size="28" fill="#4d4d4d" text-anchor="middle">1</text>
<line x1="440.89" y1="1239.65" x2="440.89" y2="1249.50" stroke="#2b2b2b" stroke-width="3.70"/>
<text transform="translate(440.89,1277.25) scale(0.920,1)" font-size="28" fill="#4d4d4d" text-anchor="middle">2</text>
<line x1="486.86" y1="1239.65" x2="486.86" y2="1249.50" stroke="#2b2b2b" stroke-width="3.70"/>
<text transform="translate(486.86,1277.25) scale(0.920,1)" font-size="28" fill="#4d4d4d" text-anchor="middle">3</text>
<line x1="532.83" y1="1239.65" x2="532.83" y2="1249.50" stroke="#2b2b2b" stroke-width="3.70"/>
<text transform="translate(532.83,1277.25) scale(0.920,1)" font-size="28" fill="#4d4d4d" text-anchor="middle">4</text>
<line x1="578.80" y1="1239.65" x2="578.80" y2="1249.50" stroke="#2b2b2b" stroke-width="3.70"/>
<text transform="translate(578.80,1277.25) scale(0.920,1)" font-size="28" fill="#4d4d4d" text-anchor="middle">5</text>
<path d="M633.39 1229.35L633.39 1229.35L633.79 1229.35L634.19 1229.35L634.59 1229.35L634.99 1229.35L635.39 1229.35L635.79 1229.35L636.19 1229.35L636.59 1229.35L636.99 1229.35L637.39 1229.16L637.79 1228.76L638.19 1228.09L638.59 1226.49L638.99 1223.22L639.39 1217.42L639.79 1209.17L640.19 1194.13L640.59 1179.06L640.99 1164.64L641.39 1153.97L641.79 1147.58L642.19 1143.15L642.59 1140.16L642.99 1138.47L643.39 1137.09L643.79 1135.89L644.19 1134.19L644.59 1131.47L644.99 1125.27L645.39 1107.22L645.79 1089.37L646.19 1069.72L646.59 1049.67L646.99 1029.31L647.39 1017.41L647.79 1016.14L648.19 1025.14L648.59 1043.90L648.99 1064.45L649.39 1084.36L649.79 1106.27L650.19 1130.94L650.59 1165.18L650.99 1183.46L651.39 1195.81L651.79 1205.61L652.19 1211.26L652.59 1212.84L652.99 1211.51L653.39 1209.17L653.79 1207.54L654.19 1207.06L654.59 1208.32L654.99 1211.15L655.39 1215.35L655.79 1219.79L656.19 1223.53L656.59 1226.34L656.99 1228.07L657.39 1228.85L657.79 1229.17L658.19 1229.33L658.59 1229.35L658.99 1229.35L659.39 1229.35L659.79 1229.35L660.19 1229.35L660.59 1229.35L660.99 1229.35L661.39 1229.35L661.79 1229.35L662.19 1229.35L662.59 1229.35L662.99 1229.35L663.39 1229.08L663.79 1227.65L664.19 1224.63L664.59 1219.66L664.99 1214.10L665.39 1208.30L665.79 1202.55L666.19 1197.87L666.59 1194.16L666.99 1191.86L667.39 1191.27L667.79 1192.75L668.19 1195.30L668.59 1198.84L668.99 1203.27L669.39 1208.45L669.79 1214.17L670.19 1219.66L670.59 1223.97L670.99 1226.70L671.39 1228.30L671.79 1228.98L672.19 1229.33L672.59 1229.35L672.99 1229.35L673.39 1229.35L673.79 1229.35L674.19 1229.35L674.59 1229.35L674.99 1229.35L675.39 1229.35L675.79 1229.35L676.19 1229.35L676.59 1229.35L676.99 1229.35L677.39 1229.35L677.79 1229.35L678.19 1229.35L678.59 1229.35L678.99 1229.35L679.39 1229.35L679.79 1229.35L680.19 1229.35L680.59 1229.35L680.99 1229.35L681.39 1229.35L681.79 1229.35L682.19 1229.35L682.59 1229.35L682.99 1229.35L683.39 1229.35L683.79 1229.35L684.19 1229.35L684.59 1229.35L684.99 1229.35L685.39 1229.35L685.79 1229.35L686.19 1229.35L686.59 1229.35L686.99 1229.35L687.39 1229.35L687.79 1229.35L688.19 1229.35L688.59 1229.35L688.99 1229.35L689.39 1229.35L689.79 1229.35L690.19 1229.35L690.59 1229.35L690.99 1229.35L691.39 1229.35L691.79 1229.35L692.19 1229.35L692.59 1229.35L692.99 1229.35L693.39 1229.35L693.79 1229.35L694.19 1229.35L694.59 1229.35L694.99 1229.35L695.39 1229.35L695.79 1229.35L696.19 1229.35L696.59 1229.35L696.99 1229.35L697.39 1229.35L697.79 1229.35L698.19 1229.35L698.59 1229.35L698.99 1229.35L699.39 1229.35L699.79 1229.35L700.19 1229.35L700.59 1229.35L700.99 1229.35L701.39 1229.35L701.79 1229.35L702.19 1229.35L702.59 1229.35L702.99 1229.35L703.39 1229.35L703.79 1229.35L704.19 1229.35L704.59 1229.35L704.99 1229.35L705.39 1229.35L705.79 1229.35L706.19 1229.35L706.59 1229.35L706.99 1229.35L707.39 1229.35L707.79 1229.35L708.19 1229.35L708.59 1229.35L708.99 1229.35L709.39 1229.35L709.79 1229.35L710.19 1229.35L710.59 1229.35L710.99 1229.35L711.39 1229.35L711.79 1229.35L712.19 1229.35L712.59 1229.35L712.99 1229.35L713.39 1229.35L713.79 1229.35L714.19 1229.35L714.59 1229.35L714.99 1229.35L715.39 1229.35L715.79 1229.35L716.19 1229.35L716.59 1229.35L716.99 1229.35L717.39 1229.35L717.79 1229.35L718.19 1229.35L718.59 1229.35L718.99 1229.35L719.39 1229.35L719.79 1229.35L720.19 1229.35L720.59 1229.35L720.99 1229.35L721.39 1229.35L721.79 1229.35L722.19 1229.35L722.59 1229.35L722.99 1229.35L723.39 1229.35L723.79 1229.35L724.19 1229.35L724.59 1229.35L724.99 1229.35L725.39 1229.35L725.79 1229.35L726.19 1229.35L726.59 1229.35L726.99 1229.35L727.39 1229.35L727.79 1229.35L728.19 1229.35L728.59 1229.35L728.99 1229.35L729.39 1229.35L729.79 1229.35L730.19 1229.35L730.59 1229.35L730.99 1229.35L731.39 1229.35L731.79 1229.35L732.19 1229.35L732.59 1229.35L732.99 1229.35L733.39 1229.35L733.79 1229.35L734.19 1229.35L734.59 1229.35L734.99 1229.35L735.39 1229.35L735.79 1229.35L736.19 1229.35L736.59 1229.35L736.99 1229.35L737.39 1229.35L737.79 1229.35L738.19 1229.35L738.59 1229.35L738.99 1229.35L739.39 1229.35L739.79 1229.35L740.19 1229.35L740.59 1229.35L740.99 1229.35L741.39 1229.35L741.79 1229.35L742.19 1229.35L742.59 1229.35L742.99 1229.35L743.39 1229.35L743.79 1229.35L744.19 1229.35L744.59 1229.35L744.99 1229.35L745.39 1229.35L745.79 1229.35L746.19 1229.35L746.59 1229.35L746.99 1229.35L747.39 1229.35L747.79 1229.35L748.19 1229.35L748.59 1229.35L748.99 1229.35L749.39 1229.35L749.79 1229.35L750.19 1229.35L750.59 1229.35L750.99 1229.35L751.39 1229.35L751.79 1229.35L752.19 1229.35L752.59 1229.35L752.99 1229.35L753.39 1229.35L753.79 1229.35L754.19 1229.35L754.59 1229.35L754.99 1229.35L755.39 1229.35L755.79 1229.35L756.19 1229.35L756.59 1229.35L756.99 1229.35L757.39 1229.35L757.79 1229.35L758.19 1229.35L758.59 1229.35L758.99 1229.35L759.39 1229.35L759.79 1229.35L760.19 1229.35L760.59 1229.35L760.99 1229.35L761.39 1229.35L761.79 1229.35L762.19 1229.35L762.59 1229.35L762.99 1229.35L763.39 1229.35L763.79 1229.35L764.19 1229.35L764.59 1229.35L764.99 1229.35L765.39 1229.35L765.79 1229.35L766.19 1229.35L766.59 1229.35L766.99 1229.35L767.39 1229.35L767.79 1229.35L768.19 1229.35L768.59 1229.35L768.99 1229.35L769.39 1229.35L769.79 1229.35L770.19 1229.35L770.59 1229.35L770.99 1229.35L771.39 1229.35L771.79 1229.35L772.19 1229.35L772.59 1229.35L772.99 1229.35L773.39 1229.35L773.79 1229.35L774.19 1229.35L774.59 1229.35L774.99 1229.35L775.39 1229.35L775.79 1229.35L776.19 1229.35L776.59 1229.35L776.99 1229.35L777.39 1229.35L777.79 1229.35L778.19 1229.35L778.59 1229.35L778.99 1229.35L779.39 1229.35L779.79 1229.35L780.19 1229.35L780.59 1229.35L780.99 1229.35L781.39 1229.35L781.79 1229.35L782.19 1229.35L782.59 1229.35L782.99 1229.35L783.39 1229.35L783.79 1229.35L784.19 1229.35L784.59 1229.35L784.99 1229.35L785.39 1229.35L785.79 1229.35L786.19 1229.35L786.59 1229.35L786.99 1229.35L787.39 1229.35L787.79 1229.35L788.19 1229.35L788.59 1229.35L788.99 1229.35L789.39 1229.35L789.79 1229.35L790.19 1229.35L790.59 1229.35L790.99 1229.35L791.39 1229.35L791.79 1229.35L792.19 1229.35L792.59 1229.35L792.99 1229.35L793.39 1229.35L793.79 1229.35L794.19 1229.35L794.59 1229.35L794.99 1229.35L795.39 1229.35L795.79 1229.35L796.19 1229.35L796.59 1229.35L796.99 1229.35L797.39 1229.35L797.79 1229.35L798.19 1229.35L798.59 1229.35L798.99 1229.35L799.39 1229.35L799.79 1229.35L800.19 1229.35L800.59 1229.35L800.99 1229.35L801.39 1229.35L801.79 1229.35L802.19 1229.35L802.59 1229.35L802.99 1229.35L803.39 1229.35L803.79 1229.35L804.19 1229.35L804.59 1229.35L804.99 1229.35L805.39 1229.35L805.79 1229.35L806.19 1229.35L806.59 1229.35L806.99 1229.35L807.39 1229.35L807.79 1229.35L808.19 1229.35L808.59 1229.35L808.99 1229.35L809.39 1229.35L809.79 1229.35L810.19 1229.35L810.59 1229.35L810.99 1229.35L811.39 1229.35L811.79 1229.35L812.19 1229.35L812.59 1229.35L812.99 1229.35L813.39 1229.35L813.79 1229.35L814.19 1229.35L814.59 1229.35L814.99 1229.35L815.39 1229.35L815.79 1229.35L816.19 1229.35L816.59 1229.35L816.99 1229.35L817.39 1229.35L817.79 1229.35L818.19 1229.35L818.59 1229.35L818.99 1229.35L819.39 1229.35L819.79 1229.35L820.19 1229.35L820.59 1229.35L820.99 1229.35L821.39 1229.35L821.79 1229.35L822.19 1229.35L822.59 1229.35L822.99 1229.35L823.39 1229.35L823.79 1229.35L824.19 1229.35L824.59 1229.35L824.99 1229.35L825.39 1229.35L825.79 1229.35L826.19 1229.35L826.59 1229.35L826.99 1229.35L827.39 1229.35L827.79 1229.35L828.19 1229.35L828.59 1229.35L828.99 1229.35L829.39 1229.35L829.79 1229.35L830.19 1229.35L830.59 1229.35L830.99 1229.35L831.39 1229.35L831.79 1229.35L832.19 1229.35L832.59 1229.35L832.99 1229.35L833.39 1229.35L833.79 1229.35L834.19 1229.35L834.59 1229.35L834.99 1229.35L835.39 1229.35L835.79 1229.35L836.19 1229.35L836.59 1229.35L836.99 1229.35L837.39 1229.35L837.79 1229.35L838.19 1229.35L838.59 1229.35L838.99 1229.35L839.39 1229.35L839.79 1229.35L840.19 1229.35L840.59 1229.35L840.99 1229.35L841.39 1229.35L841.79 1229.35L842.19 1229.35L842.59 1229.35L842.99 1229.35L843.39 1229.35L843.79 1229.35L844.19 1229.35L844.59 1229.35L844.99 1229.35L845.39 1229.35L845.79 1229.35L846.19 1229.35L846.59 1229.35L846.99 1229.35L847.39 1229.35L847.79 1229.35L848.19 1229.35L848.59 1229.35L848.99 1229.35L849.39 1229.35L849.79 1229.35L850.19 1229.35L850.59 1229.35L850.99 1229.35L851.39 1229.35L851.79 1229.35L852.19 1229.35L852.59 1229.35L852.99 1229.35L853.39 1229.35L853.79 1229.35L854.19 1229.35L854.59 1229.35L854.99 1229.35L855.39 1229.35L855.79 1229.35L856.19 1229.35L856.59 1229.35L857.24 1229.35L857.24 1229.35Z" fill="#ccccff" stroke="#000" stroke-width="2.9" stroke-linejoin="round" stroke-linecap="round"/>
<rect x="623.15" y="1005.45" width="244.33" height="233.55" fill="none" stroke="#2b2b2b" stroke-width="1.90"/>
<text transform="translate(744.92,986.90) scale(0.920,1)" font-size="28" fill="#1a1a1a" text-anchor="middle">18</text>
<line x1="659.82" y1="1239.65" x2="659.82" y2="1249.50" stroke="#2b2b2b" stroke-width="3.70"/>
<text transform="translate(659.82,1277.25) scale(0.920,1)" font-size="28" fill="#4d4d4d" text-anchor="middle">1</text>
<line x1="705.79" y1="1239.65" x2="705.79" y2="1249.50" stroke="#2b2b2b" stroke-width="3.70"/>
<text transform="translate(705.79,1277.25) scale(0.920,1)" font-size="28" fill="#4d4d4d" text-anchor="middle">2</text>
<line x1="751.76" y1="1239.65" x2="751.76" y2="1249.50" stroke="#2b2b2b" stroke-width="3.70"/>
<text transform="translate(751.76,1277.25) scale(0.920,1)" font-size="28" fill="#4d4d4d" text-anchor="middle">3</text>
<line x1="797.73" y1="1239.65" x2="797.73" y2="1249.50" stroke="#2b2b2b" stroke-width="3.70"/>
<text transform="translate(797.73,1277.25) scale(0.920,1)" font-size="28" fill="#4d4d4d" text-anchor="middle">4</text>
<line x1="843.70" y1="1239.65" x2="843.70" y2="1249.50" stroke="#2b2b2b" stroke-width="3.70"/>
<text transform="translate(843.70,1277.25) scale(0.920,1)" font-size="28" fill="#4d4d4d" text-anchor="middle">5</text>
<text x="600.9 614.5" y="1318" font-size="36" fill="#000">rt</text>
<text transform="translate(42.8,713.5) rotate(-90)" x="-1.46 18.62 37.36 56.9 74.31 83.36 95.59" y="0" font-size="36" fill="#000">density</text>
</g></svg>
</body></html>
